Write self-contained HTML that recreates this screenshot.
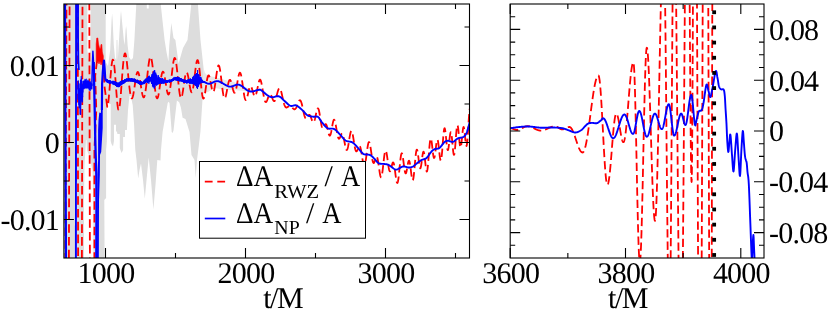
<!DOCTYPE html>
<html><head><meta charset="utf-8"><title>plot</title><style>html,body{margin:0;padding:0;background:#fff;width:830px;height:314px;overflow:hidden}svg text{font-family:"Liberation Serif",serif;fill:#000;letter-spacing:-0.8px;text-rendering:geometricPrecision}</style></head><body>
<svg width="830" height="314" viewBox="0 0 830 314" style="display:block;position:absolute;left:0;top:0;will-change:transform">
<rect x="0" y="0" width="830" height="314" fill="#fff"/>
<defs><clipPath id="cl"><rect x="63.9" y="4" width="405.6" height="254"/></clipPath><clipPath id="cr"><rect x="510.2" y="4" width="253.8" height="254"/></clipPath></defs>
<g clip-path="url(#cl)"><path d="M203.60 68.40 L205.00 73.00 L208.00 76.00 L215.00 77.00 L225.00 80.00 L234.00 82.00 L245.00 87.00 L253.00 90.00 L259.00 90.50 L259.00 91.00 L253.00 92.00 L245.00 91.00 L234.00 90.00 L225.00 90.00 L215.00 88.00 L208.00 92.00 L203.60 93.00Z" fill="#e7e7e7" stroke="none"/><path d="M63.90 4.00 L87.40 4.00 L87.40 50.00 L88.50 60.00 L90.60 50.00 L90.60 4.00 L105.70 4.00 L105.70 60.00 L106.50 100.00 L106.10 150.00 L106.10 198.00 L104.30 200.00 L104.60 258.00 L93.40 258.00 L93.40 200.00 L92.50 170.00 L90.00 158.00 L87.00 150.00 L86.50 140.00 L86.00 140.00 L84.50 165.00 L84.00 200.00 L84.00 258.00 L63.90 258.00Z" fill="#dddddd" stroke="none"/><path d="M105.70 62.00 L108.00 66.00 L110.20 50.00 L111.60 20.00 L112.10 13.40 L112.60 20.00 L113.80 45.00 L115.00 58.00 L116.30 60.00 L116.60 40.00 L117.40 40.00 L117.80 60.00 L118.90 42.00 L120.50 16.00 L121.00 10.80 L121.50 16.00 L123.80 40.00 L124.60 45.00 L125.60 30.00 L126.10 26.00 L126.60 30.00 L127.60 45.00 L129.00 57.00 L131.00 60.00 L133.00 58.00 L134.40 40.00 L136.30 4.00 L146.80 4.00 L146.80 8.60 L148.70 8.60 L148.70 4.00 L160.70 4.00 L164.60 40.00 L166.50 52.00 L168.40 61.50 L169.30 45.00 L171.30 23.00 L173.50 38.00 L175.40 40.00 L178.60 63.40 L183.00 48.00 L187.50 40.00 L191.30 4.00 L197.90 4.00 L200.50 40.00 L203.60 68.40 L203.60 93.00 L202.40 101.00 L200.40 132.00 L199.00 144.00 L197.00 160.00 L195.70 178.00 L194.50 160.00 L191.50 155.00 L189.50 132.00 L185.50 119.00 L182.60 117.80 L180.90 107.50 L179.20 102.30 L176.90 100.60 L173.50 130.40 L172.60 133.00 L171.70 132.00 L169.50 103.00 L168.50 101.70 L167.70 102.90 L162.60 132.00 L161.00 150.00 L160.50 160.50 L157.30 160.00 L155.50 185.00 L153.40 209.50 L151.00 180.00 L148.70 157.60 L147.00 175.00 L144.80 198.70 L143.00 180.00 L141.00 163.40 L139.50 170.00 L138.20 178.60 L136.50 160.00 L135.30 150.00 L134.10 125.00 L132.70 105.00 L130.80 96.00 L129.50 95.50 L128.00 110.00 L126.90 130.00 L125.00 130.00 L125.00 137.00 L123.10 137.00 L123.10 150.00 L121.50 153.00 L119.80 148.00 L119.80 134.00 L117.40 134.00 L116.90 131.40 L116.00 131.40 L116.00 124.70 L114.00 124.70 L114.00 141.00 L113.00 146.60 L111.50 144.00 L110.70 141.00 L110.70 104.00 L107.00 103.50 L106.90 141.00 L106.10 150.00Z" fill="#dddddd" stroke="none"/><path d="M66.5 0L65.4 262" stroke="#ff0000" stroke-width="1.8" stroke-dasharray="8.6 4.2" stroke-dashoffset="3" fill="none"/><path d="M69.6 0L68.9 262" stroke="#ff0000" stroke-width="1.8" stroke-dasharray="8.6 4.2" stroke-dashoffset="6.2" fill="none"/><path d="M77.8 0L78.1 262" stroke="#ff0000" stroke-width="1.8" stroke-dasharray="8.6 4.2" stroke-dashoffset="8.6" fill="none"/><path d="M82.5 0L81.9 262" stroke="#ff0000" stroke-width="1.8" stroke-dasharray="8.6 4.2" stroke-dashoffset="6.1" fill="none"/><path d="M89.3 0L89.9 262" stroke="#ff0000" stroke-width="1.8" stroke-dasharray="8.6 4.2" stroke-dashoffset="11.2" fill="none"/><path d="M96.9 61.5L95.2 76L96.3 110L94.4 150L94.4 262" stroke="#ff0000" stroke-width="1.8" stroke-dasharray="8.6 4.2" stroke-dashoffset="1" fill="none"/><path d="M96.20 62.00 L96.20 44.00 L96.80 38.00 L97.80 38.00 L98.50 44.00 L99.50 48.00 L100.50 49.00 L101.00 44.50 L101.80 44.50 L102.30 52.00 L103.30 56.00 L103.30 60.00 L102.80 68.00 L102.00 62.00 L101.00 65.00 L100.00 61.00 L99.00 64.00 L98.00 61.00 L97.00 63.00Z" fill="#ff0000" stroke="#ff0000" stroke-width="0.6" stroke-linejoin="round"/><path d="M103.20 62.00 L104.50 86.50 L107.00 105.00 L107.25 106.89 L107.50 106.43 L107.75 105.54 L108.00 104.23 L108.25 102.54 L108.50 100.49 L108.75 98.13 L109.00 95.50 L109.25 92.65 L109.50 89.63 L109.75 86.49 L110.00 83.30 L110.25 80.11 L110.50 76.98 L110.75 73.97 L111.00 71.13 L111.25 68.50 L111.50 66.15 L111.75 64.11 L112.00 62.42 L112.25 61.11 L112.50 60.21 L112.75 59.73 L113.00 59.68 L113.25 60.06 L113.50 60.87 L113.75 62.09 L114.00 63.71 L114.25 65.70 L114.50 68.02 L114.75 70.64 L115.00 73.51 L115.25 76.66 L115.50 79.96 L115.75 83.38 L116.00 86.84 L116.25 90.28 L116.50 93.64 L116.75 96.84 L117.00 99.84 L117.25 102.52 L117.50 104.89 L117.75 106.85 L118.00 108.44 L118.25 109.38 L118.50 109.87 L118.75 109.87 L119.00 109.41 L119.25 108.49 L119.50 107.14 L119.75 105.39 L120.00 103.27 L120.25 100.81 L120.50 98.07 L120.75 95.08 L121.00 91.90 L121.25 88.58 L121.50 85.17 L121.75 81.72 L122.00 78.29 L122.25 74.92 L122.50 71.66 L122.75 68.56 L123.00 65.65 L123.25 62.99 L123.50 60.59 L123.75 58.50 L124.00 56.75 L124.25 55.34 L124.50 54.30 L124.75 53.62 L125.00 53.32 L125.25 53.49 L125.50 54.02 L125.75 54.89 L126.00 56.08 L126.25 57.56 L126.50 59.30 L126.75 61.28 L127.00 63.46 L127.25 65.80 L127.50 68.26 L127.75 70.81 L128.00 73.40 L128.25 76.01 L128.50 78.59 L128.75 81.11 L129.00 83.52 L129.25 85.81 L129.50 87.94 L129.75 89.88 L130.00 91.62 L130.25 93.29 L130.50 94.75 L130.75 95.98 L131.00 96.97 L131.25 97.70 L131.50 98.18 L131.75 98.40 L132.00 98.37 L132.25 98.09 L132.50 97.57 L132.75 96.83 L133.00 95.87 L133.25 94.73 L133.50 93.42 L133.75 91.96 L134.00 90.39 L134.25 88.74 L134.50 87.02 L134.75 85.29 L135.00 83.55 L135.25 81.85 L135.50 80.22 L135.75 78.67 L136.00 77.23 L136.25 75.93 L136.50 74.79 L136.75 73.82 L137.00 73.05 L137.25 72.47 L137.50 72.11 L137.75 71.95 L138.00 72.02 L138.25 72.32 L138.50 72.84 L138.75 73.60 L139.00 74.57 L139.25 75.72 L139.50 77.04 L139.75 78.48 L140.00 80.04 L140.25 81.65 L140.50 83.32 L140.75 84.97 L141.00 86.65 L141.25 88.25 L141.50 89.81 L141.75 91.27 L142.00 92.63 L142.25 93.85 L142.50 94.92 L142.75 95.82 L143.00 96.53 L143.25 97.02 L143.50 97.30 L143.75 97.36 L144.00 97.17 L144.25 96.75 L144.50 96.09 L144.75 95.21 L145.00 94.09 L145.25 92.76 L145.50 91.22 L145.75 89.49 L146.00 87.57 L146.25 85.52 L146.50 83.33 L146.75 81.07 L147.00 78.74 L147.25 76.40 L147.50 74.06 L147.75 71.77 L148.00 69.53 L148.25 67.41 L148.50 65.42 L148.75 63.58 L149.00 61.93 L149.25 60.48 L149.50 59.27 L149.75 58.30 L150.00 57.60 L150.25 57.17 L150.50 57.02 L150.75 57.16 L151.00 57.59 L151.25 58.30 L151.50 59.28 L151.75 60.52 L152.00 62.00 L152.25 63.71 L152.50 65.61 L152.75 67.69 L153.00 69.90 L153.25 72.23 L153.50 74.64 L153.75 77.08 L154.00 79.54 L154.25 81.96 L154.50 84.32 L154.75 86.59 L155.00 88.72 L155.25 90.70 L155.50 92.49 L155.75 94.07 L156.00 95.43 L156.25 96.53 L156.50 97.38 L156.75 97.97 L157.00 98.28 L157.25 98.33 L157.50 98.11 L157.75 97.63 L158.00 96.92 L158.25 95.98 L158.50 94.83 L158.75 93.50 L159.00 92.01 L159.25 90.40 L159.50 88.69 L159.75 86.92 L160.00 85.11 L160.25 83.31 L160.50 81.55 L160.75 79.85 L161.00 78.24 L161.25 76.77 L161.50 75.44 L161.75 74.28 L162.00 73.32 L162.25 72.56 L162.50 72.03 L162.75 71.72 L163.00 71.65 L163.25 71.80 L163.50 72.19 L163.75 72.80 L164.00 73.61 L164.25 74.61 L164.50 75.78 L164.75 77.09 L165.00 78.53 L165.25 80.06 L165.50 81.65 L165.75 83.27 L166.00 84.90 L166.25 86.49 L166.50 88.02 L166.75 89.45 L167.00 90.75 L167.25 91.90 L167.50 92.87 L167.75 93.63 L168.00 94.17 L168.25 94.48 L168.50 94.53 L168.75 94.33 L169.00 93.87 L169.25 93.15 L169.50 92.19 L169.75 90.98 L170.00 89.55 L170.25 87.91 L170.50 86.08 L170.75 84.09 L171.00 81.97 L171.25 79.75 L171.50 77.48 L171.75 75.17 L172.00 72.88 L172.25 70.64 L172.50 68.48 L172.75 66.45 L173.00 64.56 L173.25 62.87 L173.50 61.39 L173.75 60.15 L174.00 59.16 L174.25 58.46 L174.50 58.05 L174.75 57.94 L175.00 58.14 L175.25 58.64 L175.50 59.43 L175.75 60.52 L176.00 61.86 L176.25 63.48 L176.50 65.31 L176.75 67.35 L177.00 69.54 L177.25 71.87 L177.50 74.28 L177.75 76.76 L178.00 79.25 L178.25 81.72 L178.50 84.12 L178.75 86.43 L179.00 88.60 L179.25 90.61 L179.50 92.41 L179.75 93.99 L180.00 95.33 L180.25 96.39 L180.50 97.18 L180.75 97.68 L181.00 97.89 L181.25 97.81 L181.50 97.46 L181.75 96.85 L182.00 96.00 L182.25 94.93 L182.50 93.66 L182.75 92.22 L183.00 90.64 L183.25 88.96 L183.50 87.20 L183.75 85.41 L184.00 83.61 L184.25 81.85 L184.50 80.16 L184.75 78.57 L185.00 77.11 L185.25 75.80 L185.50 74.68 L185.75 73.76 L186.00 73.06 L186.25 72.59 L186.50 72.35 L186.75 72.36 L187.00 72.60 L187.25 73.07 L187.50 73.76 L187.75 74.65 L188.00 75.71 L188.25 76.93 L188.50 78.28 L188.75 79.73 L189.00 81.23 L189.25 82.77 L189.50 84.30 L189.75 85.79 L190.00 87.20 L190.25 88.50 L190.50 89.65 L190.75 90.62 L191.00 91.39 L191.25 91.94 L191.50 92.24 L191.75 92.29 L192.00 92.08 L192.25 91.60 L192.50 90.87 L192.75 89.88 L193.00 88.65 L193.25 87.21 L193.50 85.56 L193.75 83.75 L194.00 81.80 L194.25 79.74 L194.50 77.61 L194.75 75.43 L195.00 73.25 L195.25 71.12 L195.50 69.07 L195.75 67.15 L196.00 65.40 L196.25 63.85 L196.50 62.53 L196.75 61.48 L197.00 60.70 L197.25 60.24 L197.50 60.09 L197.75 60.27 L198.00 60.76 L198.25 61.58 L198.50 62.71 L198.75 64.13 L199.00 65.82 L199.25 67.75 L199.50 69.89 L199.75 72.20 L200.00 74.64 L200.25 77.17 L200.50 79.73 L200.75 82.28 L201.00 84.78 L201.25 87.18 L201.50 89.44 L201.75 91.51 L202.00 93.37 L202.25 94.98 L202.50 96.32 L202.75 97.37 L203.00 98.10 L203.25 98.52 L203.50 98.62 L203.75 98.42 L204.00 97.92 L204.25 97.15 L204.50 96.14 L204.75 94.91 L205.00 93.49 L205.25 91.92 L205.50 90.24 L205.75 88.49 L206.00 86.70 L206.25 84.93 L206.50 83.21 L206.75 81.58 L207.00 80.09 L207.25 78.75 L207.50 77.60 L207.75 76.67 L208.00 75.97 L208.25 75.53 L208.50 75.32 L208.75 75.39 L209.00 75.68 L209.25 76.22 L209.50 76.98 L209.75 77.92 L210.00 79.02 L210.25 80.25 L210.50 81.56 L210.75 82.94 L211.00 84.34 L211.25 85.72 L211.50 87.03 L211.75 88.26 L212.00 89.35 L212.25 90.27 L212.50 91.01 L212.75 91.53 L213.00 91.81 L213.25 91.85 L213.50 91.64 L213.75 91.17 L214.00 90.44 L214.25 89.48 L214.50 88.30 L214.75 86.92 L215.00 85.36 L215.25 83.65 L215.50 81.85 L215.75 79.96 L216.00 78.06 L216.25 76.15 L216.50 74.30 L216.75 72.53 L217.00 70.90 L217.25 69.42 L217.50 68.14 L217.75 67.08 L218.00 66.26 L218.25 65.73 L218.50 65.46 L218.75 65.48 L219.00 65.78 L219.25 66.37 L219.50 67.23 L219.75 68.34 L220.00 69.69 L220.25 71.25 L220.50 73.00 L220.75 74.90 L221.00 76.91 L221.25 79.02 L221.50 81.16 L221.75 83.31 L222.00 85.43 L222.25 87.49 L222.50 89.44 L222.75 91.26 L223.00 92.92 L223.25 94.39 L223.50 95.65 L223.75 96.68 L224.00 97.47 L224.25 98.01 L224.50 98.31 L224.75 98.35 L225.00 98.16 L225.25 97.74 L225.50 97.10 L225.75 96.28 L226.00 95.28 L226.25 94.15 L226.50 92.90 L226.75 91.57 L227.00 90.19 L227.25 88.80 L227.50 87.41 L227.75 86.08 L228.00 84.81 L228.25 83.64 L228.50 82.61 L228.75 81.71 L229.00 80.98 L229.25 80.42 L229.50 80.04 L229.75 79.85 L230.00 79.85 L230.25 80.03 L230.50 80.40 L230.75 80.92 L231.00 81.59 L231.25 82.39 L231.50 83.30 L231.75 84.28 L232.00 85.33 L232.25 86.40 L232.50 87.47 L232.75 88.50 L233.00 89.48 L233.25 90.37 L233.50 91.15 L233.75 91.80 L234.00 92.29 L234.25 92.62 L234.50 92.76 L234.75 92.72 L235.00 92.48 L235.25 92.04 L235.50 91.42 L235.75 90.62 L236.00 89.65 L236.25 88.54 L236.50 87.30 L236.75 85.97 L237.00 84.55 L237.25 83.09 L237.50 81.61 L237.75 80.16 L238.00 78.75 L238.25 77.43 L238.50 76.22 L238.75 75.15 L239.00 74.24 L239.25 73.53 L239.50 73.02 L239.75 72.74 L240.00 72.68 L240.25 72.87 L240.50 73.29 L240.75 73.95 L241.00 74.83 L241.25 75.92 L241.50 77.20 L241.75 78.65 L242.00 80.24 L242.25 81.94 L242.50 83.73 L242.75 85.56 L243.00 87.41 L243.25 89.23 L243.50 91.01 L243.75 92.69 L244.00 94.26 L244.25 95.68 L244.50 96.93 L244.75 97.99 L245.00 98.85 L245.25 99.49 L245.50 99.90 L245.75 100.10 L246.00 100.07 L246.25 99.83 L246.50 99.39 L246.75 98.78 L247.00 98.01 L247.25 97.10 L247.50 96.09 L247.75 95.00 L248.00 93.87 L248.25 92.73 L248.50 91.60 L248.75 90.51 L249.00 89.51 L249.25 88.59 L249.50 87.80 L249.75 87.15 L250.00 86.65 L250.25 86.34 L250.50 86.20 L250.75 86.23 L251.00 86.44 L251.25 86.80 L251.50 87.30 L251.75 87.94 L252.00 88.68 L252.25 89.51 L252.50 90.38 L252.75 91.29 L253.00 92.20 L253.25 93.08 L253.50 93.90 L253.75 94.63 L254.00 95.26 L254.25 95.76 L254.50 96.11 L254.75 96.30 L255.00 96.32 L255.25 96.16 L255.50 95.82 L255.75 95.31 L256.00 94.63 L256.25 93.80 L256.50 92.84 L256.75 91.77 L257.00 90.61 L257.25 89.39 L257.50 88.14 L257.75 86.89 L258.00 85.67 L258.25 84.48 L258.50 83.38 L258.75 82.38 L259.00 81.48 L259.25 80.71 L259.50 80.11 L259.75 79.73 L260.00 79.63 L260.25 79.77 L260.50 80.12 L260.75 80.66 L261.00 81.40 L261.25 82.32 L261.50 83.41 L261.75 84.63 L262.00 85.97 L262.25 87.40 L262.50 88.89 L262.75 90.41 L263.00 91.94 L263.25 93.43 L263.50 94.88 L263.75 96.24 L264.00 97.50 L264.25 98.63 L264.50 99.62 L264.75 100.46 L265.00 101.12 L265.25 101.62 L265.50 101.94 L265.75 102.08 L266.00 102.07 L266.25 101.90 L266.50 101.59 L266.75 101.15 L267.00 100.62 L267.25 99.99 L267.50 99.32 L267.75 98.60 L268.00 97.88 L268.25 97.19 L268.50 96.53 L268.75 95.94 L269.00 95.43 L269.25 95.01 L269.50 94.70 L269.75 94.50 L270.00 94.42 L270.25 94.45 L270.50 94.60 L270.75 94.86 L271.00 95.22 L271.25 95.67 L271.50 96.20 L271.75 96.78 L272.00 97.40 L272.25 98.04 L272.50 98.66 L272.75 99.26 L273.00 99.79 L273.25 100.26 L273.50 100.65 L273.75 100.93 L274.00 101.10 L274.25 101.15 L274.50 101.08 L274.75 100.87 L275.00 100.54 L275.25 100.08 L275.50 99.50 L275.75 98.82 L276.00 98.05 L276.25 97.19 L276.50 96.28 L276.75 95.32 L277.00 94.35 L277.25 93.38 L277.50 92.44 L277.75 91.55 L278.00 90.72 L278.25 89.98 L278.50 89.35 L278.75 88.85 L279.00 88.48 L279.25 88.26 L279.50 88.19 L279.75 88.28 L280.00 88.51 L280.25 88.91 L280.50 89.43 L280.75 90.10 L281.00 90.88 L281.25 91.78 L281.50 92.76 L281.75 93.81 L282.00 94.92 L282.25 96.07 L282.50 97.23 L282.75 98.39 L283.00 99.53 L283.25 100.63 L283.50 101.69 L283.75 102.66 L284.00 103.57 L284.25 104.37 L284.50 105.08 L284.75 105.70 L285.00 106.22 L285.25 106.65 L285.50 106.99 L285.75 107.24 L286.00 107.41 L286.25 107.50 L286.50 107.53 L286.75 107.49 L287.00 107.41 L287.25 107.29 L287.50 107.13 L287.75 106.97 L288.00 106.79 L288.25 106.62 L288.50 106.45 L288.75 106.32 L289.00 106.20 L289.25 106.13 L289.50 106.09 L289.75 106.09 L290.00 106.13 L290.25 106.17 L290.50 106.24 L290.75 106.35 L291.00 106.49 L291.25 106.66 L291.50 106.87 L291.75 107.10 L292.00 107.36 L292.25 107.62 L292.50 107.90 L292.75 108.17 L293.00 108.43 L293.25 108.67 L293.50 108.89 L293.75 109.07 L294.00 109.20 L294.25 109.29 L294.50 109.30 L294.75 109.27 L295.00 109.15 L295.25 108.98 L295.50 108.72 L295.75 108.42 L296.00 108.02 L296.25 107.59 L296.50 107.08 L296.75 106.52 L297.00 105.91 L297.25 105.27 L297.50 104.60 L297.75 103.94 L298.00 103.27 L298.25 102.64 L298.50 102.05 L298.75 101.51 L299.00 101.06 L299.25 100.69 L299.50 100.43 L299.75 100.28 L300.00 100.26 L300.25 100.37 L300.50 100.62 L300.75 101.00 L301.00 101.52 L301.25 102.18 L301.50 102.95 L301.75 103.83 L302.00 104.81 L302.25 105.88 L302.50 107.02 L302.75 108.21 L303.00 109.42 L303.25 110.63 L303.50 111.82 L303.75 112.97 L304.00 114.05 L304.25 115.04 L304.50 115.93 L304.75 116.69 L305.00 117.33 L305.25 117.84 L305.50 118.20 L305.75 118.42 L306.00 118.51 L306.25 118.47 L306.50 118.33 L306.75 118.08 L307.00 117.76 L307.25 117.36 L307.50 116.95 L307.75 116.50 L308.00 116.08 L308.25 115.68 L308.50 115.35 L308.75 115.10 L309.00 114.93 L309.25 114.87 L309.50 114.93 L309.75 115.10 L310.00 115.39 L310.25 115.79 L310.50 116.28 L310.75 116.87 L311.00 117.52 L311.25 118.21 L311.50 118.93 L311.75 119.64 L312.00 120.32 L312.25 120.94 L312.50 121.47 L312.75 121.91 L313.00 122.21 L313.25 122.37 L313.50 122.36 L313.75 122.18 L314.00 121.82 L314.25 121.27 L314.50 120.56 L314.75 119.70 L315.00 118.71 L315.25 117.61 L315.50 116.44 L315.75 115.23 L316.00 114.02 L316.25 112.84 L316.50 111.73 L316.75 110.74 L317.00 109.87 L317.25 109.19 L317.50 108.70 L317.75 108.44 L318.00 108.40 L318.25 108.65 L318.50 109.11 L318.75 109.84 L319.00 110.78 L319.25 111.95 L319.50 113.29 L319.75 114.78 L320.00 116.36 L320.25 117.98 L320.50 119.61 L320.75 121.18 L321.00 122.67 L321.25 124.01 L321.50 125.20 L321.75 126.22 L322.00 127.02 L322.25 127.63 L322.50 128.05 L322.75 128.26 L323.00 128.27 L323.25 128.12 L323.50 127.81 L323.75 127.38 L324.00 126.87 L324.25 126.31 L324.50 125.75 L324.75 125.22 L325.00 124.76 L325.25 124.42 L325.50 124.20 L325.75 124.16 L326.00 124.28 L326.25 124.60 L326.50 125.10 L326.75 125.78 L327.00 126.62 L327.25 127.57 L327.50 128.64 L327.75 129.74 L328.00 130.88 L328.25 131.96 L328.50 132.99 L328.75 133.89 L329.00 134.65 L329.25 135.22 L329.50 135.58 L329.75 135.71 L330.00 135.60 L330.25 135.25 L330.50 134.65 L330.75 133.83 L331.00 132.81 L331.25 131.63 L331.50 130.30 L331.75 128.90 L332.00 127.44 L332.25 126.00 L332.50 124.61 L332.75 123.32 L333.00 122.18 L333.25 121.22 L333.50 120.47 L333.75 119.97 L334.00 119.72 L334.25 119.74 L334.50 120.03 L334.75 120.56 L335.00 121.34 L335.25 122.33 L335.50 123.51 L335.75 124.83 L336.00 126.28 L336.25 127.80 L336.50 129.35 L336.75 130.88 L337.00 132.36 L337.25 133.75 L337.50 135.01 L337.75 136.12 L338.00 137.04 L338.25 137.77 L338.50 138.30 L338.75 138.61 L339.00 138.73 L339.25 138.65 L339.50 138.39 L339.75 137.99 L340.00 137.47 L340.25 136.88 L340.50 136.25 L340.75 135.63 L341.00 135.04 L341.25 134.53 L341.50 134.13 L341.75 133.86 L342.00 133.75 L342.25 133.82 L342.50 134.07 L342.75 134.51 L343.00 135.15 L343.25 135.97 L343.50 136.95 L343.75 138.07 L344.00 139.31 L344.25 140.63 L344.50 142.00 L344.75 143.37 L345.00 144.71 L345.25 145.97 L345.50 147.12 L345.75 148.12 L346.00 148.93 L346.25 149.53 L346.50 149.89 L346.75 150.01 L347.00 149.88 L347.25 149.49 L347.50 148.86 L347.75 147.99 L348.00 146.91 L348.25 145.66 L348.50 144.25 L348.75 142.74 L349.00 141.16 L349.25 139.55 L349.50 137.97 L349.75 136.46 L350.00 135.06 L350.25 133.81 L350.50 132.76 L350.75 131.92 L351.00 131.33 L351.25 131.00 L351.50 130.95 L351.75 131.18 L352.00 131.68 L352.25 132.43 L352.50 133.43 L352.75 134.62 L353.00 135.99 L353.25 137.48 L353.50 139.06 L353.75 140.70 L354.00 142.32 L354.25 143.92 L354.50 145.43 L354.75 146.84 L355.00 148.08 L355.25 149.16 L355.50 150.03 L355.75 150.70 L356.00 151.14 L356.25 151.37 L356.50 151.39 L356.75 151.21 L357.00 150.86 L357.25 150.38 L357.50 149.79 L357.75 149.15 L358.00 148.48 L358.25 147.82 L358.50 147.21 L358.75 146.70 L359.00 146.31 L359.25 146.07 L359.50 146.01 L359.75 146.15 L360.00 146.51 L360.25 147.08 L360.50 147.86 L360.75 148.85 L361.00 150.03 L361.25 151.36 L361.50 152.82 L361.75 154.38 L362.00 155.99 L362.25 157.62 L362.50 159.22 L362.75 160.75 L363.00 162.13 L363.25 163.32 L363.50 164.26 L363.75 164.96 L364.00 165.38 L364.25 165.54 L364.50 165.39 L364.75 164.94 L365.00 164.20 L365.25 163.18 L365.50 161.91 L365.75 160.42 L366.00 158.75 L366.25 156.94 L366.50 155.03 L366.75 153.10 L367.00 151.18 L367.25 149.32 L367.50 147.59 L367.75 146.03 L368.00 144.68 L368.25 143.58 L368.50 142.76 L368.75 142.26 L369.00 142.06 L369.25 142.21 L369.50 142.65 L369.75 143.42 L370.00 144.45 L370.25 145.75 L370.50 147.24 L370.75 148.88 L371.00 150.63 L371.25 152.43 L371.50 154.23 L371.75 155.95 L372.00 157.59 L372.25 159.05 L372.50 160.33 L372.75 161.38 L373.00 162.18 L373.25 162.71 L373.50 162.98 L373.75 162.98 L374.00 162.74 L374.25 162.29 L374.50 161.68 L374.75 160.94 L375.00 160.14 L375.25 159.32 L375.50 158.54 L375.75 157.85 L376.00 157.28 L376.25 156.89 L376.50 156.70 L376.75 156.75 L377.00 157.05 L377.25 157.62 L377.50 158.45 L377.75 159.52 L378.00 160.84 L378.25 162.33 L378.50 164.00 L378.75 165.77 L379.00 167.60 L379.25 169.42 L379.50 171.18 L379.75 172.82 L380.00 174.29 L380.25 175.49 L380.50 176.41 L380.75 177.01 L381.00 177.26 L381.25 177.15 L381.50 176.66 L381.75 175.81 L382.00 174.61 L382.25 173.10 L382.50 171.31 L382.75 169.30 L383.00 167.13 L383.25 164.86 L383.50 162.56 L383.75 160.31 L384.00 158.16 L384.25 156.20 L384.50 154.47 L384.75 153.03 L385.00 151.91 L385.25 151.13 L385.50 150.73 L385.75 150.70 L386.00 151.05 L386.25 151.75 L386.50 152.78 L386.75 154.09 L387.00 155.64 L387.25 157.36 L387.50 159.21 L387.75 161.10 L388.00 162.98 L388.25 164.79 L388.50 166.46 L388.75 167.94 L389.00 169.19 L389.25 170.17 L389.50 170.86 L389.75 171.25 L390.00 171.34 L390.25 171.14 L390.50 170.67 L390.75 169.98 L391.00 169.10 L391.25 168.10 L391.50 167.02 L391.75 165.93 L392.00 164.90 L392.25 163.98 L392.50 163.22 L392.75 162.69 L393.00 162.42 L393.25 162.43 L393.50 162.75 L393.75 163.39 L394.00 164.33 L394.25 165.55 L394.50 167.03 L394.75 168.72 L395.00 170.58 L395.25 172.54 L395.50 174.53 L395.75 176.44 L396.00 178.23 L396.25 179.77 L396.50 181.08 L396.75 182.06 L397.00 182.70 L397.25 182.96 L397.50 182.80 L397.75 182.21 L398.00 181.20 L398.25 179.79 L398.50 178.03 L398.75 175.96 L399.00 173.64 L399.25 171.15 L399.50 168.55 L399.75 165.94 L400.00 163.40 L400.25 161.00 L400.50 158.82 L400.75 156.93 L401.00 155.40 L401.25 154.26 L401.50 153.55 L401.75 153.28 L402.00 153.45 L402.25 154.05 L402.50 155.03 L402.75 156.37 L403.00 157.98 L403.25 159.82 L403.50 161.79 L403.75 163.83 L404.00 165.82 L404.25 167.71 L404.50 169.42 L404.75 170.88 L405.00 172.03 L405.25 172.84 L405.50 173.28 L405.75 173.35 L406.00 173.06 L406.25 172.42 L406.50 171.49 L406.75 170.31 L407.00 168.96 L407.25 167.50 L407.50 166.02 L407.75 164.60 L408.00 163.30 L408.25 162.21 L408.50 161.38 L408.75 160.87 L409.00 160.72 L409.25 160.96 L409.50 161.59 L409.75 162.59 L410.00 163.93 L410.25 165.57 L410.50 167.43 L410.75 169.44 L411.00 171.51 L411.25 173.55 L411.50 175.47 L411.75 177.17 L412.00 178.58 L412.25 179.62 L412.50 180.23 L412.75 180.35 L413.00 179.99 L413.25 179.11 L413.50 177.75 L413.75 175.92 L414.00 173.71 L414.25 171.18 L414.50 168.41 L414.75 165.52 L415.00 162.60 L415.25 159.76 L415.50 157.12 L415.75 154.76 L416.00 152.78 L416.25 151.24 L416.50 150.20 L416.75 149.68 L417.00 149.70 L417.25 150.23 L417.50 151.24 L417.75 152.66 L418.00 154.41 L418.25 156.39 L418.50 158.51 L418.75 160.65 L419.00 162.69 L419.25 164.53 L419.50 166.09 L419.75 167.26 L420.00 168.01 L420.25 168.29 L420.50 168.08 L420.75 167.41 L421.00 166.30 L421.25 164.82 L421.50 163.05 L421.75 161.12 L422.00 159.11 L422.25 157.15 L422.50 155.35 L422.75 153.83 L423.00 152.66 L423.25 151.92 L423.50 151.67 L423.75 151.93 L424.00 152.70 L424.25 153.94 L424.50 155.60 L424.75 157.59 L425.00 159.82 L425.25 162.14 L425.50 164.47 L425.75 166.63 L426.00 168.53 L426.25 170.03 L426.50 171.06 L426.75 171.50 L427.00 171.36 L427.25 170.57 L427.50 169.18 L427.75 167.22 L428.00 164.78 L428.25 161.93 L428.50 158.80 L428.75 155.52 L429.00 152.22 L429.25 149.04 L429.50 146.10 L429.75 143.54 L430.00 141.44 L430.25 139.88 L430.50 138.91 L430.75 138.56 L431.00 138.80 L431.25 139.61 L431.50 140.92 L431.75 142.67 L432.00 144.70 L432.25 146.92 L432.50 149.21 L432.75 151.43 L433.00 153.47 L433.25 155.24 L433.50 156.61 L433.75 157.56 L434.00 157.99 L434.25 157.92 L434.50 157.33 L434.75 156.28 L435.00 154.79 L435.25 153.00 L435.50 150.97 L435.75 148.85 L436.00 146.72 L436.25 144.72 L436.50 142.94 L436.75 141.50 L437.00 140.46 L437.25 139.90 L437.50 139.85 L437.75 140.33 L438.00 141.31 L438.25 142.77 L438.50 144.60 L438.75 146.76 L439.00 149.10 L439.25 151.52 L439.50 153.88 L439.75 156.04 L440.00 157.90 L440.25 159.33 L440.50 160.24 L440.75 160.57 L441.00 160.28 L441.25 159.36 L441.50 157.82 L441.75 155.72 L442.00 153.14 L442.25 150.17 L442.50 146.94 L442.75 143.59 L443.00 140.26 L443.25 137.11 L443.50 134.27 L443.75 131.87 L444.00 130.02 L444.25 128.80 L444.50 128.25 L444.75 128.39 L445.00 129.17 L445.25 130.56 L445.50 132.44 L445.75 134.73 L446.00 137.27 L446.25 139.93 L446.50 142.53 L446.75 144.94 L447.00 147.01 L447.25 148.63 L447.50 149.69 L447.75 150.15 L448.00 149.98 L448.25 149.22 L448.50 147.91 L448.75 146.16 L449.00 144.07 L449.25 141.78 L449.50 139.44 L449.75 137.22 L450.00 135.25 L450.25 133.67 L450.50 132.61 L450.75 132.13 L451.00 132.30 L451.25 133.10 L451.50 134.52 L451.75 136.47 L452.00 138.86 L452.25 141.53 L452.50 144.34 L452.75 147.09 L453.00 149.66 L453.25 151.82 L453.50 153.50 L453.75 154.52 L454.00 154.86 L454.25 154.44 L454.50 153.30 L454.75 151.46 L455.00 149.03 L455.25 146.11 L455.50 142.88 L455.75 139.50 L456.00 136.14 L456.25 133.00 L456.50 130.22 L456.75 127.97 L457.00 126.35 L457.25 125.44 L457.50 125.27 L457.75 125.85 L458.00 127.10 L458.25 128.97 L458.50 131.30 L458.75 133.95 L459.00 136.75 L459.25 139.52 L459.50 142.08 L459.75 144.27 L460.00 145.97 L460.25 147.07 L460.50 147.50 L460.75 147.25 L461.00 146.33 L461.25 144.81 L461.50 142.79 L461.75 140.42 L462.00 137.83 L462.25 135.21 L462.50 132.73 L462.75 130.53 L463.00 128.79 L463.25 127.58 L463.50 127.03 L463.75 127.16 L464.00 127.94 L464.25 129.36 L464.50 131.27 L464.75 133.58 L465.00 136.10 L465.25 138.66 L465.50 141.09 L465.75 143.18 L466.00 144.79 L466.25 145.74 L466.50 146.00 L466.75 145.37 L467.00 143.99 L467.25 141.81 L467.50 138.96 L467.75 135.57 L468.00 131.81 L468.25 127.79 L468.50 123.77 L468.75 119.83 L469.00 116.25 L469.25 113.17 L469.50 110.73 L469.75 109.05 L470.00 108.13" stroke="#ff0000" stroke-width="1.8" stroke-dasharray="8.3 4" fill="none" stroke-linejoin="round"/><path d="M65.0 0 L65.4 120 L66.0 262" stroke="#0000ff" stroke-width="2.2" fill="none"/><path d="M76.1 0 L75.9 262" stroke="#0000ff" stroke-width="1.9" fill="none"/><path d="M78.00 0.00 L78.00 36.00 L78.30 60.00 L78.80 70.00" stroke="#0000ff" stroke-width="1.9" fill="none"/><path d="M77.80 85.11 L77.97 99.30 L78.14 80.61 L78.31 99.21 L78.48 81.65 L78.65 104.40 L78.82 88.45 L78.99 107.84 L79.16 89.01 L79.33 107.17 L79.50 88.97 L79.67 102.23 L79.84 83.85 L80.01 114.26 L80.18 88.53 L80.35 104.24 L80.52 80.15 L80.69 114.41 L80.86 81.35 L81.03 104.79 L81.20 76.32 L81.37 98.94 L81.54 78.64 L81.71 100.99 L81.88 87.64 L82.05 97.73 L82.22 85.30 L82.39 102.02 L82.56 85.68 L82.73 96.72 L82.90 81.39 L83.07 92.29 L83.24 81.70 L83.41 88.82 L83.58 84.16 L83.75 88.65 L83.92 80.78 L84.09 88.66 L84.26 82.24 L84.43 88.17 L84.60 81.33 L84.77 86.31 L84.94 79.41 L85.11 87.38 L85.28 81.45 L85.45 87.01 L85.62 80.53 L85.79 88.22 L85.96 79.91 L86.13 86.16 L86.30 79.12 L86.47 85.64 L86.64 81.31 L86.81 88.07 L86.98 82.40 L87.15 87.19 L87.32 82.93 L87.49 87.94 L87.66 80.44 L87.83 87.70 L88.00 80.17 L88.17 86.94 L88.34 81.09 L88.51 88.18 L88.68 81.77 L88.85 87.93 L89.02 81.12 L89.19 89.89 L89.36 82.68 L89.53 89.14 L89.70 84.40 L89.87 89.51 L90.04 82.57 L90.21 90.51 L90.38 81.83 L90.55 87.89 L90.72 83.19 L90.89 89.04 L91.06 84.30 L91.23 88.16 L91.40 83.65 L91.57 86.82 L91.74 83.88 L91.91 88.87 L92.08 83.49" stroke="#0000ff" stroke-width="1.1" fill="none" stroke-linejoin="round"/><path d="M91.80 86.00 L92.30 68.00 L92.90 51.30 L93.50 62.00 L94.00 80.00" stroke="#0000ff" stroke-width="1.5" fill="none" stroke-linejoin="round"/><path d="M93.70 62.00 L94.40 96.00 L94.90 120.00 L95.30 140.00 L95.60 152.00 L96.30 174.00 L96.50 200.00 L96.30 262.00" stroke="#0000ff" stroke-width="2.3" fill="none" stroke-linejoin="round"/><path d="M101.20 106.00 L100.90 113.00 L99.30 112.50 L98.50 120.00 L98.10 130.00 L98.10 160.00 L97.50 175.00 L97.20 200.00 L97.00 262.00 L98.80 262.00 L99.00 200.00 L99.80 175.00 L100.00 155.00 L101.20 152.00 L102.70 128.00 L102.70 106.00Z" fill="#0000ff" stroke="none"/><path d="M101.90 110.00 L102.10 84.00 L102.80 72.00 L103.50 64.00 L104.00 60.50 L104.60 68.00 L105.20 78.00 L105.80 80.40" stroke="#0000ff" stroke-width="2.2" fill="none" stroke-linejoin="round"/><path d="M105.80 79.82 L105.93 81.27 L106.06 78.90 L106.19 80.87 L106.32 79.69 L106.45 81.74 L106.58 79.07 L106.71 82.29 L106.84 79.20 L106.97 81.51 L107.10 80.04 L107.23 81.75 L107.36 79.36 L107.49 82.85 L107.62 80.68 L107.75 81.65 L107.88 80.64 L108.01 81.85 L108.14 80.31 L108.27 82.56 L108.40 80.79 L108.53 81.66 L108.66 80.62 L108.79 82.39 L108.92 80.46 L109.05 83.49 L109.18 80.33 L109.31 82.84 L109.44 80.55 L109.57 83.21 L109.70 81.61 L109.83 83.70 L109.96 80.43 L110.09 83.75 L110.22 80.48 L110.35 83.00 L110.48 81.26 L110.61 82.57 L110.74 80.92 L110.87 82.58 L111.00 82.00 L111.13 82.92 L111.26 81.90 L111.39 83.23 L111.52 82.17 L111.65 82.70 L111.78 82.06 L111.91 82.95 L112.04 81.75 L112.17 82.89 L112.30 80.88 L112.43 84.05 L112.56 82.27 L112.69 83.47 L112.82 81.97 L112.95 83.76 L113.08 82.45 L113.21 84.77 L113.34 80.85 L113.47 84.12 L113.60 81.89 L113.73 83.47 L113.86 82.71 L113.99 84.06 L114.12 82.45 L114.25 85.13 L114.38 82.74 L114.51 83.60 L114.64 81.21 L114.77 84.73 L114.90 82.93 L115.03 84.87 L115.16 83.29 L115.29 84.98 L115.42 81.41 L115.55 85.84 L115.68 82.13 L115.81 84.74 L115.94 83.00 L116.07 84.72 L116.20 82.29 L116.33 85.73 L116.46 82.46 L116.59 85.49 L116.72 83.86 L116.85 86.76 L116.98 82.32 L117.11 87.02 L117.24 82.81 L117.37 87.07 L117.50 83.03 L117.63 85.77 L117.76 83.53 L117.89 86.08 L118.02 84.67 L118.15 85.28 L118.28 84.02 L118.41 85.74 L118.54 82.99 L118.67 87.20 L118.80 83.43 L118.93 86.99 L119.06 82.07 L119.19 86.83 L119.32 83.31 L119.45 85.00 L119.58 83.43 L119.71 84.75 L119.84 83.29 L119.97 85.47 L120.10 81.60 L120.23 85.71 L120.36 82.32 L120.49 85.09 L120.62 81.46 L120.75 83.69 L120.88 81.58 L121.01 85.21 L121.14 81.18 L121.27 84.69 L121.40 81.64 L121.53 83.35 L121.66 80.88 L121.79 83.51 L121.92 80.73 L122.05 84.61 L122.18 81.41 L122.31 83.34 L122.44 80.22 L122.57 83.82 L122.70 81.61 L122.83 82.53 L122.96 81.51 L123.09 83.86 L123.22 80.16 L123.35 82.29 L123.48 80.01 L123.61 83.68 L123.74 80.21 L123.87 82.39 L124.00 80.30 L124.13 81.86 L124.26 81.13 L124.39 83.23 L124.52 79.87 L124.65 82.31 L124.78 79.25 L124.91 82.02 L125.04 79.25 L125.17 82.60 L125.30 80.31 L125.43 81.46 L125.56 80.06 L125.69 81.34 L125.82 79.44 L125.95 81.26 L126.08 79.63 L126.21 80.94 L126.34 78.68 L126.47 81.23 L126.60 79.38 L126.73 81.54 L126.86 78.52 L126.99 81.17 L127.12 78.43 L127.25 81.23 L127.38 79.03 L127.51 81.20 L127.64 79.85 L127.77 80.99 L127.90 79.52 L128.03 80.19 L128.16 78.42 L128.29 80.44 L128.42 78.95 L128.55 81.34 L128.68 78.78 L128.81 80.64 L128.94 78.83 L129.07 81.01 L129.20 78.37 L129.33 80.24 L129.46 78.74 L129.59 80.47 L129.72 79.22 L129.85 81.35 L129.98 78.84 L130.11 80.99 L130.24 78.44 L130.37 81.58 L130.50 78.98 L130.63 81.10 L130.76 78.90 L130.89 80.95 L131.02 78.62 L131.15 80.87 L131.28 78.91 L131.41 80.94 L131.54 78.27 L131.67 81.32 L131.80 78.42 L131.93 81.75 L132.06 79.46 L132.19 81.17 L132.32 78.38 L132.45 81.67 L132.58 79.73 L132.71 80.54 L132.84 79.28 L132.97 80.51 L133.10 79.65 L133.23 80.56 L133.36 78.99 L133.49 81.78 L133.62 78.66 L133.75 80.79 L133.88 79.00 L134.01 81.69 L134.14 80.01 L134.27 82.13 L134.40 78.69 L134.53 81.08 L134.66 78.77 L134.79 81.46 L134.92 79.63 L135.05 82.54 L135.18 79.13 L135.31 81.23 L135.44 79.90 L135.57 81.94 L135.70 80.15 L135.83 81.50 L135.96 80.30 L136.09 82.52 L136.22 80.92 L136.35 82.35 L136.48 80.32 L136.61 81.55 L136.74 80.63 L136.87 82.73 L137.00 80.44 L137.13 81.89 L137.26 79.74 L137.39 83.28 L137.52 79.89 L137.65 82.21 L137.78 81.24 L137.91 82.22 L138.04 80.46 L138.17 82.76 L138.30 81.74 L138.43 83.17 L138.56 80.50 L138.69 84.04 L138.82 81.83 L138.95 83.04 L139.08 80.84 L139.21 83.98 L139.34 81.41 L139.47 83.31 L139.60 82.74 L139.73 84.55 L139.86 82.24 L139.99 83.60 L140.12 81.43 L140.25 84.73 L140.38 81.76 L140.51 83.82 L140.64 81.68 L140.77 83.81 L140.90 81.67 L141.03 84.55 L141.16 82.62 L141.29 84.71 L141.42 81.44 L141.55 84.11 L141.68 82.87 L141.81 84.52 L141.94 82.56 L142.07 83.61 L142.20 82.58 L142.33 83.37 L142.46 82.37 L142.59 83.76 L142.72 82.01 L142.85 84.52 L142.98 81.89 L143.11 83.86 L143.24 81.95 L143.37 83.40 L143.50 82.12 L143.63 83.05 L143.76 81.96 L143.89 83.91 L144.02 80.67 L144.15 82.62 L144.28 80.66 L144.41 84.06 L144.54 81.29 L144.67 83.68 L144.80 80.44 L144.93 82.85 L145.06 79.41 L145.19 82.50 L145.32 79.97 L145.45 83.03 L145.58 78.76 L145.71 82.13 L145.84 78.93 L145.97 82.80 L146.10 79.17 L146.23 82.03 L146.36 79.63 L146.49 81.07 L146.62 79.98 L146.75 80.99 L146.88 78.20 L147.01 81.38 L147.14 79.57 L147.27 80.82 L147.40 77.47 L147.53 83.04 L147.66 77.77 L147.79 81.27 L147.92 78.93 L148.05 81.27 L148.18 78.11 L148.31 80.80 L148.44 78.02 L148.57 81.13 L148.70 76.11 L148.83 83.62 L148.96 77.42 L149.09 81.05 L149.22 75.71 L149.35 81.31 L149.48 77.87 L149.61 80.11 L149.74 77.66 L149.87 82.05 L150.00 77.04 L150.13 80.94 L150.26 76.91 L150.39 80.09 L150.52 77.87 L150.65 80.48 L150.78 77.16 L150.91 80.26 L151.04 78.88 L151.17 81.56 L151.30 77.80 L151.43 83.03 L151.56 76.22 L151.69 84.00 L151.82 75.44 L151.95 83.94 L152.08 74.01 L152.21 82.41 L152.34 76.87 L152.47 86.40 L152.60 77.82 L152.73 85.19 L152.86 74.25 L152.99 80.68 L153.12 72.47 L153.25 87.35 L153.38 73.70 L153.51 86.57 L153.64 71.81 L153.77 81.84 L153.90 73.98 L154.03 85.36 L154.16 70.77 L154.29 88.61 L154.42 70.51 L154.55 86.48 L154.68 70.35 L154.81 87.12 L154.94 72.63 L155.07 82.84 L155.20 78.67 L155.33 81.93 L155.46 76.12 L155.59 81.64 L155.72 72.75 L155.85 84.93 L155.98 74.70 L156.11 85.13 L156.24 74.71 L156.37 83.94 L156.50 79.34 L156.63 85.56 L156.76 75.09 L156.89 83.54 L157.02 76.64 L157.15 84.22 L157.28 79.22 L157.41 84.53 L157.54 78.33 L157.67 81.12 L157.80 78.35 L157.93 84.29 L158.06 78.73 L158.19 84.24 L158.32 75.26 L158.45 83.02 L158.58 78.10 L158.71 82.89 L158.84 76.91 L158.97 84.05 L159.10 77.35 L159.23 83.44 L159.36 79.65 L159.49 81.43 L159.62 79.04 L159.75 83.66 L159.88 78.96 L160.01 82.94 L160.14 80.09 L160.27 81.15 L160.40 79.28 L160.53 83.23 L160.66 77.98 L160.79 83.21 L160.92 79.41 L161.05 82.68 L161.18 78.98 L161.31 82.52 L161.44 80.14 L161.57 83.75 L161.70 80.00 L161.83 83.94 L161.96 78.10 L162.09 81.32 L162.22 79.53 L162.35 83.41 L162.48 78.39 L162.61 82.46 L162.74 80.24 L162.87 81.91 L163.00 78.82 L163.13 81.94 L163.26 79.73 L163.39 81.82 L163.52 79.95 L163.65 83.57 L163.78 80.85 L163.91 83.28 L164.04 80.15 L164.17 83.40 L164.30 79.84 L164.43 82.11 L164.56 79.55 L164.69 82.59 L164.82 81.23 L164.95 81.70 L165.08 80.43 L165.21 82.49 L165.34 80.80 L165.47 81.95 L165.60 80.76 L165.73 82.22 L165.86 80.00 L165.99 81.71 L166.12 80.19 L166.25 82.97 L166.38 81.18 L166.51 83.04 L166.64 80.34 L166.77 82.93 L166.90 80.96 L167.03 82.15 L167.16 80.81 L167.29 82.98 L167.42 80.52 L167.55 82.09 L167.68 80.71 L167.81 81.95 L167.94 81.20 L168.07 81.68 L168.20 80.10 L168.33 81.89 L168.46 79.93 L168.59 81.80 L168.72 80.78 L168.85 82.11 L168.98 80.84 L169.11 81.87 L169.24 79.74 L169.37 82.50 L169.50 79.88 L169.63 82.10 L169.76 79.68 L169.89 82.45 L170.02 80.10 L170.15 82.07 L170.28 80.69 L170.41 82.01 L170.54 80.06 L170.67 81.93 L170.80 79.69 L170.93 81.20 L171.06 80.39 L171.19 81.94 L171.32 80.16 L171.45 81.21 L171.58 79.74 L171.71 80.85 L171.84 79.08 L171.97 81.63 L172.10 79.59 L172.23 81.09 L172.36 79.38 L172.49 80.85 L172.62 79.09 L172.75 80.16 L172.88 79.28 L173.01 80.10 L173.14 78.00 L173.27 80.43 L173.40 78.90 L173.53 80.97 L173.66 77.51 L173.79 80.15 L173.92 78.75 L174.05 79.61 L174.18 78.71 L174.31 79.77 L174.44 78.59 L174.57 79.50 L174.70 78.18 L174.83 80.01 L174.96 76.93 L175.09 80.28 L175.22 77.69 L175.35 79.61 L175.48 77.38 L175.61 79.50 L175.74 77.67 L175.87 78.86 L176.00 77.73 L176.13 80.63 L176.26 78.03 L176.39 79.70 L176.52 77.04 L176.65 80.40 L176.78 77.88 L176.91 79.27 L177.04 77.85 L177.17 79.55 L177.30 77.53 L177.43 80.66 L177.56 76.82 L177.69 80.57 L177.82 78.48 L177.95 79.05 L178.08 77.27 L178.21 80.76 L178.34 77.82 L178.47 80.27 L178.60 78.81 L178.73 80.01 L178.86 77.21 L178.99 80.91 L179.12 77.46 L179.25 81.28 L179.38 78.70 L179.51 79.82 L179.64 78.99 L179.77 80.68 L179.90 78.15 L180.03 81.54 L180.16 78.20 L180.29 81.10 L180.42 78.23 L180.55 80.86 L180.68 78.71 L180.81 80.20 L180.94 78.40 L181.07 80.63 L181.20 78.24 L181.33 81.43 L181.46 79.42 L181.59 80.60 L181.72 79.59 L181.85 81.58 L181.98 78.91 L182.11 80.75 L182.24 80.09 L182.37 81.55 L182.50 79.30 L182.63 81.40 L182.76 80.01 L182.89 81.85 L183.02 80.46 L183.15 81.42 L183.28 79.79 L183.41 82.62 L183.54 79.57 L183.67 82.57 L183.80 79.95 L183.93 81.56 L184.06 80.42 L184.19 82.85 L184.32 79.74 L184.45 81.83 L184.58 80.96 L184.71 82.22 L184.84 79.95 L184.97 82.16 L185.10 80.71 L185.23 82.63 L185.36 79.68 L185.49 81.96 L185.62 81.20 L185.75 82.19 L185.88 80.62 L186.01 82.79 L186.14 81.01 L186.27 83.04 L186.40 80.12 L186.53 82.61 L186.66 81.03 L186.79 83.46 L186.92 80.84 L187.05 83.26 L187.18 80.98 L187.31 82.20 L187.44 79.99 L187.57 82.36 L187.70 79.59 L187.83 82.74 L187.96 81.00 L188.09 82.22 L188.22 80.52 L188.35 83.09 L188.48 79.41 L188.61 82.04 L188.74 80.47 L188.87 82.16 L189.00 79.20 L189.13 81.98 L189.26 81.08 L189.39 81.78 L189.52 80.29 L189.65 83.58 L189.78 79.14 L189.91 83.20 L190.04 78.78 L190.17 83.69 L190.30 80.18 L190.43 81.93 L190.56 78.55 L190.69 83.32 L190.82 80.71 L190.95 83.13 L191.08 79.67 L191.21 82.32 L191.34 79.65 L191.47 81.68 L191.60 80.48 L191.73 81.95 L191.86 79.29 L191.99 84.03 L192.12 79.87 L192.25 84.08 L192.38 79.47 L192.51 82.05 L192.64 77.22 L192.77 83.64 L192.90 78.40 L193.03 80.87 L193.16 78.05 L193.29 82.07 L193.42 76.06 L193.55 81.36 L193.68 78.08 L193.81 84.41 L193.94 79.39 L194.07 82.36 L194.20 75.63 L194.33 84.13 L194.46 79.14 L194.59 80.59 L194.72 78.92 L194.85 85.21 L194.98 77.77 L195.11 84.43 L195.24 74.01 L195.37 82.23 L195.50 77.37 L195.63 85.96 L195.76 75.13 L195.89 81.84 L196.02 74.26 L196.15 82.29 L196.28 76.83 L196.41 80.25 L196.54 73.13 L196.67 87.14 L196.80 73.65 L196.93 87.82 L197.06 78.30 L197.19 82.33 L197.32 74.33 L197.45 88.94 L197.58 70.06 L197.71 83.69 L197.84 76.51 L197.97 83.76 L198.10 74.95 L198.23 87.09 L198.36 77.55 L198.49 85.67 L198.62 74.30 L198.75 85.30 L198.88 74.71 L199.01 83.66 L199.14 77.55 L199.27 82.05 L199.40 77.64 L199.53 84.17 L199.66 79.19 L199.79 81.43 L199.92 76.56 L200.05 81.64 L200.18 79.60 L200.31 80.85 L200.44 78.09 L200.57 81.88 L200.70 77.12 L200.83 83.48 L200.96 77.60 L201.09 81.68 L201.22 80.26 L201.35 81.31 L201.48 79.47 L201.61 82.75 L201.74 79.82 L201.87 81.75 L202.00 80.12 L202.13 82.48 L202.26 79.92 L202.39 82.65 L202.52 79.95 L202.65 82.47 L202.78 81.18 L202.91 82.62 L203.04 81.15 L203.17 82.32 L203.30 81.22 L203.43 82.50 L203.56 81.52 L203.69 82.12 L203.82 81.62 L203.95 82.12 L204.08 81.35 L204.21 82.46 L204.34 81.87 L204.47 82.41 L204.60 81.75 L204.73 82.52 L204.86 82.24 L204.99 82.67 L205.12 82.28 L205.25 82.83 L205.38 82.56 L205.51 82.81 L205.64 82.52 L205.77 83.02 L205.90 82.63" stroke="#0000ff" stroke-width="1.0" fill="none" stroke-linejoin="round"/><path d="M105.80 80.40 L106.12 80.52 L106.54 80.69 L107.03 80.89 L107.59 81.11 L108.18 81.34 L108.80 81.57 L109.41 81.79 L110.00 82.00 L110.48 82.15 L110.98 82.31 L111.50 82.46 L112.04 82.61 L112.58 82.76 L113.11 82.90 L113.62 83.05 L114.12 83.20 L114.58 83.35 L115.00 83.50 L115.60 83.80 L116.11 84.15 L116.56 84.50 L117.00 84.80 L117.47 84.98 L118.00 85.00 L118.44 84.88 L118.88 84.66 L119.34 84.36 L119.81 84.00 L120.31 83.61 L120.84 83.22 L121.40 82.84 L122.00 82.50 L122.43 82.28 L122.88 82.05 L123.36 81.81 L123.85 81.56 L124.36 81.31 L124.88 81.07 L125.40 80.84 L125.93 80.62 L126.45 80.42 L126.98 80.25 L127.49 80.11 L128.00 80.00 L128.51 79.93 L129.02 79.88 L129.55 79.87 L130.07 79.87 L130.60 79.90 L131.12 79.94 L131.64 80.00 L132.15 80.07 L132.64 80.15 L133.12 80.23 L133.57 80.32 L134.00 80.40 L134.60 80.54 L135.16 80.72 L135.69 80.92 L136.19 81.13 L136.66 81.35 L137.12 81.58 L137.56 81.80 L138.00 82.00 L138.55 82.30 L139.04 82.64 L139.50 82.97 L139.96 83.26 L140.45 83.45 L141.00 83.50 L141.46 83.41 L141.95 83.23 L142.47 82.98 L143.00 82.69 L143.53 82.37 L144.05 82.05 L144.54 81.75 L145.00 81.50 L145.55 81.21 L146.04 80.93 L146.50 80.66 L146.96 80.41 L147.45 80.19 L148.00 80.00 L148.45 79.88 L148.93 79.78 L149.43 79.70 L149.94 79.62 L150.46 79.57 L150.98 79.53 L151.49 79.51 L152.00 79.50 L152.50 79.51 L153.00 79.55 L153.50 79.61 L154.00 79.69 L154.50 79.77 L155.00 79.85 L155.50 79.93 L156.00 80.00 L156.49 80.06 L156.98 80.11 L157.46 80.17 L157.94 80.22 L158.43 80.28 L158.93 80.34 L159.45 80.41 L160.00 80.50 L160.46 80.59 L160.94 80.69 L161.43 80.81 L161.93 80.94 L162.44 81.06 L162.95 81.18 L163.47 81.29 L163.98 81.39 L164.50 81.46 L165.00 81.50 L165.50 81.52 L165.98 81.53 L166.47 81.52 L166.95 81.50 L167.44 81.47 L167.93 81.42 L168.43 81.34 L168.94 81.25 L169.46 81.14 L170.00 81.00 L170.47 80.85 L170.95 80.65 L171.45 80.42 L171.96 80.17 L172.48 79.90 L173.00 79.62 L173.52 79.36 L174.04 79.11 L174.55 78.89 L175.05 78.71 L175.53 78.57 L176.00 78.50 L176.54 78.49 L177.06 78.54 L177.57 78.66 L178.07 78.81 L178.56 79.00 L179.05 79.21 L179.53 79.42 L180.02 79.64 L180.50 79.83 L181.00 80.00 L181.50 80.16 L182.02 80.33 L182.53 80.50 L183.05 80.68 L183.56 80.86 L184.07 81.02 L184.57 81.17 L185.06 81.31 L185.54 81.42 L186.00 81.50 L186.55 81.56 L187.07 81.60 L187.57 81.60 L188.06 81.57 L188.54 81.53 L189.02 81.47 L189.51 81.39 L190.00 81.30 L190.50 81.18 L191.00 81.03 L191.50 80.86 L192.00 80.67 L192.50 80.48 L193.00 80.29 L193.50 80.13 L194.00 80.00 L194.49 79.88 L194.96 79.75 L195.43 79.63 L195.90 79.52 L196.38 79.45 L196.89 79.41 L197.42 79.42 L198.00 79.50 L198.45 79.61 L198.92 79.75 L199.41 79.94 L199.91 80.15 L200.43 80.38 L200.95 80.62 L201.48 80.88 L202.02 81.13 L202.55 81.37 L203.08 81.60 L203.60 81.80 L204.11 82.00 L204.60 82.23 L205.09 82.47 L205.58 82.71 L206.07 82.94 L206.56 83.16 L207.08 83.35 L207.61 83.51 L208.17 83.63 L208.77 83.69 L209.40 83.70 L209.83 83.65 L210.27 83.56 L210.71 83.42 L211.17 83.25 L211.64 83.05 L212.12 82.82 L212.60 82.59 L213.10 82.35 L213.60 82.11 L214.12 81.89 L214.64 81.68 L215.18 81.49 L215.72 81.34 L216.28 81.22 L216.84 81.16 L217.42 81.15 L218.00 81.20 L218.46 81.29 L218.94 81.42 L219.43 81.59 L219.93 81.80 L220.44 82.04 L220.96 82.30 L221.48 82.59 L222.02 82.89 L222.55 83.21 L223.09 83.53 L223.64 83.86 L224.18 84.19 L224.73 84.52 L225.27 84.84 L225.81 85.15 L226.35 85.44 L226.88 85.71 L227.40 85.96 L227.91 86.17 L228.42 86.35 L228.92 86.50 L229.40 86.60 L229.95 86.66 L230.48 86.67 L231.01 86.62 L231.53 86.53 L232.03 86.40 L232.54 86.25 L233.03 86.07 L233.53 85.88 L234.02 85.68 L234.51 85.47 L234.99 85.27 L235.48 85.09 L235.97 84.92 L236.46 84.78 L236.96 84.67 L237.46 84.60 L237.96 84.58 L238.48 84.61 L239.00 84.70 L239.50 84.85 L240.02 85.05 L240.53 85.30 L241.06 85.60 L241.59 85.94 L242.12 86.30 L242.65 86.70 L243.19 87.11 L243.73 87.53 L244.26 87.96 L244.80 88.39 L245.33 88.82 L245.86 89.24 L246.39 89.63 L246.91 90.01 L247.42 90.35 L247.93 90.66 L248.43 90.92 L248.92 91.14 L249.40 91.30 L249.96 91.43 L250.53 91.50 L251.10 91.53 L251.67 91.51 L252.24 91.46 L252.80 91.37 L253.36 91.26 L253.91 91.13 L254.44 90.99 L254.96 90.84 L255.47 90.68 L255.95 90.53 L256.41 90.38 L256.85 90.25 L257.26 90.14 L257.65 90.06 L258.00 90.00 L258.87 89.83 L259.35 89.65 L259.68 89.56 L260.08 89.64 L260.80 90.00 L261.19 90.24 L261.64 90.56 L262.12 90.93 L262.64 91.35 L263.18 91.81 L263.75 92.29 L264.32 92.78 L264.89 93.27 L265.46 93.75 L266.01 94.20 L266.54 94.62 L267.04 94.99 L267.50 95.30 L268.10 95.68 L268.64 96.00 L269.14 96.29 L269.62 96.53 L270.08 96.73 L270.56 96.90 L271.06 97.03 L271.60 97.13 L272.20 97.20 L272.65 97.21 L273.13 97.16 L273.63 97.07 L274.15 96.95 L274.68 96.80 L275.22 96.65 L275.76 96.50 L276.30 96.37 L276.85 96.26 L277.38 96.18 L277.90 96.16 L278.41 96.19 L278.90 96.30 L279.46 96.52 L280.00 96.81 L280.52 97.18 L281.04 97.59 L281.55 98.05 L282.06 98.54 L282.56 99.05 L283.07 99.56 L283.57 100.06 L284.08 100.55 L284.60 101.00 L285.12 101.45 L285.65 101.94 L286.18 102.44 L286.71 102.96 L287.24 103.47 L287.77 103.96 L288.30 104.43 L288.83 104.86 L289.36 105.24 L289.88 105.56 L290.40 105.80 L290.92 105.94 L291.43 105.98 L291.94 105.94 L292.44 105.84 L292.95 105.71 L293.45 105.56 L293.96 105.43 L294.46 105.32 L294.97 105.26 L295.48 105.28 L296.00 105.40 L296.52 105.60 L297.04 105.86 L297.57 106.17 L298.10 106.53 L298.63 106.91 L299.16 107.33 L299.69 107.77 L300.22 108.22 L300.75 108.68 L301.28 109.14 L301.80 109.60 L302.32 110.08 L302.84 110.60 L303.36 111.16 L303.88 111.74 L304.39 112.33 L304.91 112.92 L305.42 113.48 L305.94 114.02 L306.46 114.51 L306.98 114.94 L307.50 115.30 L308.03 115.59 L308.56 115.83 L309.10 116.02 L309.65 116.18 L310.19 116.29 L310.73 116.39 L311.27 116.46 L311.79 116.52 L312.31 116.58 L312.81 116.63 L313.30 116.70 L313.88 116.75 L314.44 116.73 L314.99 116.67 L315.52 116.60 L316.04 116.54 L316.55 116.51 L317.04 116.55 L317.53 116.67 L318.00 116.90 L318.56 117.36 L319.07 117.97 L319.55 118.69 L320.02 119.48 L320.52 120.32 L321.07 121.17 L321.70 122.00 L322.15 122.54 L322.62 123.13 L323.11 123.76 L323.62 124.40 L324.15 125.05 L324.69 125.68 L325.24 126.30 L325.80 126.87 L326.37 127.39 L326.93 127.84 L327.50 128.20 L327.98 128.43 L328.48 128.57 L328.98 128.66 L329.50 128.69 L330.02 128.69 L330.54 128.67 L331.06 128.63 L331.58 128.60 L332.10 128.59 L332.62 128.61 L333.12 128.68 L333.62 128.80 L334.10 129.00 L334.66 129.32 L335.20 129.69 L335.74 130.12 L336.27 130.60 L336.80 131.10 L337.32 131.64 L337.83 132.19 L338.35 132.75 L338.86 133.31 L339.38 133.87 L339.90 134.40 L340.42 134.94 L340.93 135.52 L341.43 136.13 L341.94 136.74 L342.44 137.36 L342.95 137.97 L343.46 138.56 L343.98 139.12 L344.50 139.64 L345.04 140.10 L345.60 140.50 L346.09 140.78 L346.60 141.00 L347.12 141.17 L347.65 141.31 L348.20 141.42 L348.74 141.51 L349.28 141.60 L349.82 141.68 L350.35 141.77 L350.87 141.88 L351.37 142.01 L351.85 142.18 L352.30 142.40 L352.91 142.77 L353.48 143.18 L354.01 143.63 L354.52 144.11 L355.01 144.62 L355.50 145.14 L355.99 145.69 L356.48 146.24 L357.00 146.80 L357.54 147.40 L358.10 148.05 L358.68 148.75 L359.25 149.46 L359.82 150.16 L360.37 150.84 L360.89 151.47 L361.37 152.03 L361.80 152.50 L362.40 153.13 L362.81 153.55 L363.18 153.85 L363.63 154.07 L364.30 154.30 L364.70 154.39 L365.16 154.45 L365.66 154.49 L366.20 154.51 L366.75 154.53 L367.32 154.55 L367.90 154.58 L368.46 154.63 L369.01 154.71 L369.52 154.83 L370.00 155.00 L370.60 155.30 L371.17 155.67 L371.72 156.09 L372.24 156.56 L372.75 157.05 L373.26 157.56 L373.77 158.08 L374.30 158.60 L374.83 159.15 L375.34 159.77 L375.85 160.42 L376.36 161.07 L376.88 161.71 L377.42 162.29 L377.99 162.80 L378.60 163.20 L379.08 163.41 L379.58 163.57 L380.11 163.69 L380.66 163.76 L381.22 163.81 L381.78 163.84 L382.34 163.85 L382.89 163.87 L383.42 163.89 L383.92 163.93 L384.40 164.00 L385.00 164.09 L385.55 164.17 L386.06 164.23 L386.56 164.30 L387.05 164.40 L387.56 164.53 L388.11 164.73 L388.70 165.00 L389.18 165.26 L389.69 165.59 L390.23 165.97 L390.79 166.39 L391.36 166.82 L391.93 167.26 L392.48 167.68 L393.02 168.09 L393.52 168.45 L393.99 168.76 L394.40 169.00 L395.10 169.36 L395.58 169.58 L396.00 169.65 L396.49 169.59 L397.20 169.40 L397.61 169.25 L398.07 169.02 L398.57 168.74 L399.09 168.42 L399.64 168.09 L400.20 167.74 L400.77 167.41 L401.34 167.10 L401.91 166.83 L402.47 166.63 L403.00 166.50 L403.53 166.45 L404.06 166.47 L404.60 166.55 L405.14 166.66 L405.68 166.80 L406.21 166.96 L406.73 167.12 L407.25 167.27 L407.75 167.39 L408.23 167.47 L408.70 167.50 L409.30 167.49 L409.87 167.45 L410.42 167.38 L410.94 167.28 L411.45 167.15 L411.96 166.97 L412.47 166.76 L413.00 166.50 L413.54 166.18 L414.08 165.79 L414.62 165.34 L415.16 164.87 L415.69 164.38 L416.23 163.89 L416.77 163.43 L417.30 163.00 L417.82 162.60 L418.34 162.21 L418.85 161.83 L419.36 161.46 L419.87 161.10 L420.40 160.75 L420.94 160.42 L421.50 160.10 L421.97 159.88 L422.45 159.70 L422.94 159.55 L423.44 159.41 L423.95 159.27 L424.46 159.12 L424.97 158.93 L425.49 158.69 L426.00 158.38 L426.50 158.00 L427.01 157.51 L427.52 156.92 L428.05 156.25 L428.57 155.52 L429.09 154.78 L429.61 154.02 L430.11 153.29 L430.60 152.61 L431.06 152.01 L431.50 151.50 L432.07 150.92 L432.58 150.45 L433.06 150.07 L433.52 149.76 L433.98 149.49 L434.47 149.24 L435.00 149.00 L435.50 148.84 L436.02 148.76 L436.56 148.73 L437.11 148.71 L437.67 148.66 L438.24 148.55 L438.82 148.34 L439.40 148.00 L439.88 147.59 L440.38 147.08 L440.90 146.47 L441.42 145.81 L441.95 145.12 L442.47 144.43 L442.98 143.77 L443.48 143.16 L443.95 142.62 L444.40 142.20 L444.98 141.75 L445.49 141.41 L445.97 141.17 L446.43 141.00 L446.91 140.90 L447.42 140.84 L448.00 140.80 L448.44 140.82 L448.91 140.92 L449.40 141.07 L449.90 141.24 L450.41 141.43 L450.93 141.61 L451.46 141.76 L451.98 141.85 L452.49 141.87 L453.00 141.80 L453.50 141.62 L454.00 141.35 L454.50 141.01 L455.00 140.61 L455.50 140.18 L456.00 139.74 L456.50 139.32 L457.00 138.92 L457.50 138.57 L458.00 138.30 L458.51 138.10 L459.03 137.96 L459.57 137.85 L460.10 137.77 L460.63 137.71 L461.15 137.65 L461.65 137.59 L462.13 137.50 L462.59 137.37 L463.00 137.20 L463.73 136.78 L464.35 136.30 L464.90 135.75 L465.40 135.09 L465.90 134.30 L466.50 133.07 L467.04 131.62 L467.54 130.09 L468.00 128.60 L468.54 126.71 L469.02 124.81 L469.50 122.90 L470.06 120.73 L470.61 118.54 L471.00 117.00" stroke="#0000ff" stroke-width="1.9" fill="none" stroke-linejoin="round"/></g><g clip-path="url(#cr)"><path d="M510.30 128.20 L510.42 128.20 L510.54 128.21 L510.67 128.21 L510.79 128.22 L510.91 128.24 L511.03 128.25 L511.15 128.27 L511.27 128.29 L511.40 128.32 L511.52 128.34 L511.64 128.37 L511.76 128.40 L511.88 128.44 L512.01 128.47 L512.13 128.51 L512.25 128.55 L512.37 128.59 L512.49 128.64 L512.61 128.68 L512.74 128.73 L512.86 128.77 L512.98 128.82 L513.10 128.87 L513.22 128.92 L513.35 128.97 L513.47 129.02 L513.59 129.07 L513.71 129.13 L513.83 129.18 L513.95 129.23 L514.08 129.28 L514.20 129.33 L514.32 129.38 L514.44 129.43 L514.56 129.47 L514.69 129.52 L514.81 129.56 L514.93 129.61 L515.05 129.65 L515.17 129.69 L515.29 129.73 L515.42 129.76 L515.54 129.80 L515.66 129.83 L515.78 129.86 L515.90 129.88 L516.03 129.91 L516.15 129.93 L516.27 129.95 L516.39 129.96 L516.51 129.98 L516.63 129.99 L516.76 129.99 L516.88 130.00 L517.00 130.00 L517.12 130.00 L517.24 130.00 L517.36 129.99 L517.48 129.98 L517.60 129.97 L517.72 129.96 L517.84 129.94 L517.97 129.92 L518.09 129.90 L518.21 129.88 L518.33 129.85 L518.45 129.82 L518.57 129.79 L518.69 129.76 L518.81 129.73 L518.93 129.69 L519.05 129.65 L519.17 129.61 L519.29 129.57 L519.41 129.53 L519.53 129.48 L519.66 129.43 L519.78 129.38 L519.90 129.33 L520.02 129.28 L520.14 129.22 L520.26 129.17 L520.38 129.11 L520.50 129.05 L520.62 128.99 L520.74 128.93 L520.86 128.87 L520.98 128.80 L521.10 128.74 L521.22 128.67 L521.34 128.61 L521.47 128.54 L521.59 128.47 L521.71 128.41 L521.83 128.34 L521.95 128.27 L522.07 128.20 L522.19 128.13 L522.31 128.07 L522.43 128.00 L522.55 127.93 L522.67 127.86 L522.79 127.79 L522.91 127.73 L523.03 127.66 L523.16 127.59 L523.28 127.53 L523.40 127.46 L523.52 127.40 L523.64 127.33 L523.76 127.27 L523.88 127.21 L524.00 127.15 L524.12 127.09 L524.24 127.03 L524.36 126.98 L524.48 126.92 L524.60 126.87 L524.72 126.82 L524.84 126.77 L524.97 126.72 L525.09 126.67 L525.21 126.63 L525.33 126.59 L525.45 126.55 L525.57 126.51 L525.69 126.47 L525.81 126.44 L525.93 126.41 L526.05 126.38 L526.17 126.35 L526.29 126.32 L526.41 126.30 L526.53 126.28 L526.66 126.26 L526.78 126.24 L526.90 126.23 L527.02 126.22 L527.14 126.21 L527.26 126.20 L527.38 126.20 L527.50 126.20 L527.62 126.20 L527.74 126.20 L527.86 126.21 L527.98 126.21 L528.10 126.22 L528.23 126.23 L528.35 126.24 L528.47 126.26 L528.59 126.27 L528.71 126.29 L528.83 126.31 L528.95 126.33 L529.07 126.35 L529.19 126.37 L529.31 126.40 L529.43 126.43 L529.56 126.45 L529.68 126.48 L529.80 126.52 L529.92 126.55 L530.04 126.58 L530.16 126.62 L530.28 126.66 L530.40 126.70 L530.52 126.74 L530.64 126.78 L530.76 126.82 L530.89 126.87 L531.01 126.91 L531.13 126.96 L531.25 127.01 L531.37 127.06 L531.49 127.11 L531.61 127.16 L531.73 127.21 L531.85 127.26 L531.97 127.32 L532.09 127.37 L532.22 127.43 L532.34 127.49 L532.46 127.54 L532.58 127.60 L532.70 127.66 L532.82 127.72 L532.94 127.78 L533.06 127.84 L533.18 127.90 L533.30 127.96 L533.42 128.02 L533.55 128.09 L533.67 128.15 L533.79 128.21 L533.91 128.27 L534.03 128.34 L534.15 128.40 L534.27 128.46 L534.39 128.53 L534.51 128.59 L534.63 128.65 L534.75 128.71 L534.88 128.78 L535.00 128.84 L535.12 128.90 L535.24 128.96 L535.36 129.02 L535.48 129.08 L535.60 129.14 L535.72 129.20 L535.84 129.26 L535.96 129.31 L536.08 129.37 L536.21 129.43 L536.33 129.48 L536.45 129.54 L536.57 129.59 L536.69 129.64 L536.81 129.69 L536.93 129.74 L537.05 129.79 L537.17 129.84 L537.29 129.89 L537.41 129.93 L537.54 129.98 L537.66 130.02 L537.78 130.06 L537.90 130.10 L538.02 130.14 L538.14 130.18 L538.26 130.22 L538.38 130.25 L538.50 130.28 L538.62 130.32 L538.74 130.35 L538.87 130.37 L538.99 130.40 L539.11 130.43 L539.23 130.45 L539.35 130.47 L539.47 130.49 L539.59 130.51 L539.71 130.53 L539.83 130.54 L539.95 130.56 L540.07 130.57 L540.20 130.58 L540.32 130.59 L540.44 130.59 L540.56 130.60 L540.68 130.60 L540.80 130.60 L540.92 130.60 L541.04 130.60 L541.16 130.59 L541.28 130.59 L541.40 130.58 L541.52 130.57 L541.64 130.56 L541.76 130.55 L541.88 130.54 L542.00 130.52 L542.12 130.51 L542.24 130.49 L542.36 130.47 L542.48 130.45 L542.61 130.43 L542.73 130.41 L542.85 130.38 L542.97 130.36 L543.09 130.33 L543.21 130.30 L543.33 130.27 L543.45 130.24 L543.57 130.21 L543.69 130.18 L543.81 130.14 L543.93 130.11 L544.05 130.07 L544.17 130.03 L544.29 129.99 L544.41 129.95 L544.53 129.91 L544.65 129.87 L544.77 129.82 L544.89 129.78 L545.01 129.73 L545.13 129.69 L545.25 129.64 L545.37 129.59 L545.49 129.54 L545.61 129.49 L545.73 129.44 L545.85 129.39 L545.97 129.34 L546.09 129.29 L546.22 129.23 L546.34 129.18 L546.46 129.13 L546.58 129.07 L546.70 129.02 L546.82 128.96 L546.94 128.90 L547.06 128.85 L547.18 128.79 L547.30 128.74 L547.42 128.68 L547.54 128.62 L547.66 128.56 L547.78 128.51 L547.90 128.45 L548.02 128.39 L548.14 128.34 L548.26 128.28 L548.38 128.22 L548.50 128.16 L548.62 128.11 L548.74 128.05 L548.86 128.00 L548.98 127.94 L549.10 127.88 L549.22 127.83 L549.34 127.77 L549.46 127.72 L549.58 127.67 L549.71 127.61 L549.83 127.56 L549.95 127.51 L550.07 127.46 L550.19 127.41 L550.31 127.36 L550.43 127.31 L550.55 127.26 L550.67 127.21 L550.79 127.17 L550.91 127.12 L551.03 127.08 L551.15 127.03 L551.27 126.99 L551.39 126.95 L551.51 126.91 L551.63 126.87 L551.75 126.83 L551.87 126.79 L551.99 126.76 L552.11 126.72 L552.23 126.69 L552.35 126.66 L552.47 126.63 L552.59 126.60 L552.71 126.57 L552.83 126.54 L552.95 126.52 L553.07 126.49 L553.19 126.47 L553.32 126.45 L553.44 126.43 L553.56 126.41 L553.68 126.39 L553.80 126.38 L553.92 126.36 L554.04 126.35 L554.16 126.34 L554.28 126.33 L554.40 126.32 L554.52 126.31 L554.64 126.31 L554.76 126.30 L554.88 126.30 L555.00 126.30 L555.12 126.30 L555.24 126.31 L555.37 126.32 L555.49 126.33 L555.61 126.35 L555.73 126.38 L555.85 126.40 L555.97 126.43 L556.10 126.47 L556.22 126.51 L556.34 126.55 L556.46 126.60 L556.58 126.65 L556.70 126.70 L556.83 126.75 L556.95 126.81 L557.07 126.87 L557.19 126.94 L557.31 127.01 L557.43 127.08 L557.55 127.15 L557.68 127.22 L557.80 127.29 L557.92 127.37 L558.04 127.45 L558.16 127.53 L558.28 127.61 L558.41 127.69 L558.53 127.77 L558.65 127.85 L558.77 127.93 L558.89 128.01 L559.01 128.09 L559.14 128.17 L559.26 128.25 L559.38 128.33 L559.50 128.41 L559.62 128.48 L559.75 128.55 L559.87 128.62 L559.99 128.69 L560.11 128.76 L560.23 128.83 L560.35 128.89 L560.47 128.95 L560.60 129.00 L560.72 129.05 L560.84 129.10 L560.96 129.15 L561.08 129.19 L561.20 129.23 L561.33 129.27 L561.45 129.30 L561.57 129.32 L561.69 129.35 L561.81 129.37 L561.93 129.38 L562.06 129.39 L562.18 129.40 L562.30 129.40 L562.42 129.40 L562.54 129.39 L562.66 129.38 L562.78 129.37 L562.90 129.36 L563.02 129.34 L563.14 129.32 L563.26 129.29 L563.38 129.26 L563.50 129.23 L563.62 129.20 L563.74 129.16 L563.86 129.12 L563.98 129.08 L564.11 129.04 L564.23 128.99 L564.35 128.94 L564.47 128.89 L564.59 128.84 L564.71 128.78 L564.83 128.72 L564.95 128.67 L565.07 128.61 L565.19 128.55 L565.31 128.48 L565.43 128.42 L565.55 128.36 L565.67 128.30 L565.79 128.23 L565.91 128.17 L566.03 128.10 L566.15 128.04 L566.27 127.98 L566.39 127.92 L566.51 127.85 L566.63 127.79 L566.75 127.73 L566.87 127.68 L566.99 127.62 L567.11 127.56 L567.23 127.51 L567.35 127.46 L567.47 127.41 L567.59 127.36 L567.72 127.32 L567.84 127.28 L567.96 127.24 L568.08 127.20 L568.20 127.17 L568.32 127.14 L568.44 127.11 L568.56 127.08 L568.68 127.06 L568.80 127.04 L568.92 127.03 L569.04 127.02 L569.16 127.01 L569.28 127.00 L569.40 127.00 L569.52 127.01 L569.64 127.02 L569.76 127.05 L569.88 127.08 L570.00 127.13 L570.12 127.19 L570.24 127.25 L570.36 127.33 L570.48 127.42 L570.60 127.52 L570.72 127.62 L570.84 127.74 L570.96 127.87 L571.08 128.01 L571.20 128.15 L571.32 128.31 L571.44 128.47 L571.56 128.65 L571.68 128.83 L571.80 129.02 L571.92 129.23 L572.04 129.44 L572.16 129.65 L572.28 129.88 L572.40 130.11 L572.52 130.36 L572.64 130.61 L572.76 130.86 L572.88 131.13 L573.00 131.40 L573.12 131.68 L573.24 131.96 L573.36 132.26 L573.48 132.55 L573.60 132.86 L573.72 133.17 L573.84 133.48 L573.96 133.80 L574.08 134.12 L574.20 134.45 L574.32 134.79 L574.44 135.12 L574.56 135.47 L574.68 135.81 L574.80 136.16 L574.92 136.51 L575.04 136.86 L575.16 137.22 L575.28 137.58 L575.40 137.94 L575.52 138.30 L575.64 138.66 L575.76 139.02 L575.88 139.39 L576.00 139.75 L576.12 140.11 L576.24 140.48 L576.36 140.84 L576.48 141.20 L576.60 141.56 L576.72 141.92 L576.84 142.28 L576.96 142.64 L577.08 142.99 L577.20 143.34 L577.32 143.69 L577.44 144.03 L577.56 144.38 L577.68 144.71 L577.80 145.05 L577.92 145.38 L578.04 145.70 L578.16 146.02 L578.28 146.33 L578.40 146.64 L578.52 146.95 L578.64 147.24 L578.76 147.54 L578.88 147.82 L579.00 148.10 L579.12 148.37 L579.24 148.64 L579.36 148.89 L579.48 149.14 L579.60 149.39 L579.72 149.62 L579.84 149.85 L579.96 150.06 L580.08 150.27 L580.20 150.48 L580.32 150.67 L580.44 150.85 L580.56 151.03 L580.68 151.19 L580.80 151.35 L580.92 151.49 L581.04 151.63 L581.16 151.76 L581.28 151.88 L581.40 151.98 L581.52 152.08 L581.64 152.17 L581.76 152.25 L581.88 152.31 L582.00 152.37 L582.12 152.42 L582.24 152.45 L582.36 152.48 L582.48 152.49 L582.60 152.50 L582.72 152.49 L582.84 152.46 L582.96 152.40 L583.08 152.32 L583.20 152.22 L583.32 152.10 L583.44 151.96 L583.56 151.79 L583.69 151.61 L583.81 151.40 L583.93 151.17 L584.05 150.92 L584.17 150.64 L584.29 150.35 L584.41 150.04 L584.53 149.70 L584.65 149.34 L584.77 148.97 L584.89 148.57 L585.01 148.16 L585.13 147.72 L585.25 147.26 L585.37 146.79 L585.49 146.30 L585.62 145.79 L585.74 145.26 L585.86 144.71 L585.98 144.14 L586.10 143.56 L586.22 142.96 L586.34 142.34 L586.46 141.71 L586.58 141.06 L586.70 140.40 L586.82 139.72 L586.94 139.02 L587.06 138.31 L587.18 137.59 L587.30 136.85 L587.42 136.10 L587.55 135.34 L587.67 134.57 L587.79 133.78 L587.91 132.98 L588.03 132.17 L588.15 131.36 L588.27 130.53 L588.39 129.69 L588.51 128.84 L588.63 127.98 L588.75 127.12 L588.87 126.25 L588.99 125.37 L589.11 124.48 L589.23 123.59 L589.35 122.70 L589.47 121.79 L589.60 120.89 L589.72 119.98 L589.84 119.06 L589.96 118.15 L590.08 117.23 L590.20 116.31 L590.32 115.38 L590.44 114.46 L590.56 113.54 L590.68 112.62 L590.80 111.69 L590.92 110.77 L591.04 109.85 L591.16 108.94 L591.28 108.02 L591.40 107.11 L591.53 106.21 L591.65 105.30 L591.77 104.41 L591.89 103.52 L592.01 102.63 L592.13 101.75 L592.25 100.88 L592.37 100.02 L592.49 99.16 L592.61 98.31 L592.73 97.47 L592.85 96.64 L592.97 95.83 L593.09 95.02 L593.21 94.22 L593.33 93.43 L593.45 92.66 L593.58 91.90 L593.70 91.15 L593.82 90.41 L593.94 89.69 L594.06 88.98 L594.18 88.28 L594.30 87.60 L594.42 86.94 L594.54 86.29 L594.66 85.66 L594.78 85.04 L594.90 84.44 L595.02 83.86 L595.14 83.29 L595.26 82.74 L595.38 82.21 L595.51 81.70 L595.63 81.21 L595.75 80.74 L595.87 80.28 L595.99 79.84 L596.11 79.43 L596.23 79.03 L596.35 78.66 L596.47 78.30 L596.59 77.96 L596.71 77.65 L596.83 77.36 L596.95 77.08 L597.07 76.83 L597.19 76.60 L597.31 76.39 L597.44 76.21 L597.56 76.04 L597.68 75.90 L597.80 75.78 L597.92 75.68 L598.04 75.60 L598.16 75.54 L598.28 75.51 L598.40 75.50 L598.52 75.55 L598.64 75.69 L598.76 75.93 L598.88 76.27 L599.00 76.69 L599.12 77.22 L599.24 77.83 L599.36 78.54 L599.48 79.34 L599.60 80.22 L599.72 81.20 L599.84 82.26 L599.96 83.40 L600.08 84.63 L600.20 85.94 L600.32 87.32 L600.44 88.78 L600.56 90.31 L600.68 91.91 L600.80 93.58 L600.92 95.31 L601.04 97.11 L601.16 98.96 L601.28 100.87 L601.40 102.82 L601.52 104.83 L601.64 106.88 L601.76 108.97 L601.88 111.10 L602.00 113.26 L602.12 115.45 L602.24 117.67 L602.36 119.91 L602.48 122.17 L602.60 124.44 L602.72 126.72 L602.84 129.01 L602.96 131.29 L603.08 133.58 L603.20 135.86 L603.32 138.13 L603.44 140.39 L603.56 142.63 L603.68 144.85 L603.80 147.04 L603.92 149.20 L604.04 151.33 L604.16 153.42 L604.28 155.47 L604.40 157.47 L604.52 159.43 L604.64 161.34 L604.76 163.19 L604.88 164.99 L605.00 166.72 L605.12 168.39 L605.24 169.99 L605.36 171.52 L605.48 172.98 L605.60 174.36 L605.72 175.67 L605.84 176.90 L605.96 178.04 L606.08 179.10 L606.20 180.08 L606.32 180.96 L606.44 181.76 L606.56 182.47 L606.68 183.08 L606.80 183.61 L606.92 184.03 L607.04 184.37 L607.16 184.61 L607.28 184.75 L607.40 184.80 L607.52 184.77 L607.64 184.67 L607.76 184.51 L607.88 184.29 L608.00 184.00 L608.12 183.65 L608.24 183.24 L608.36 182.77 L608.48 182.23 L608.60 181.64 L608.72 180.99 L608.84 180.28 L608.96 179.51 L609.08 178.69 L609.20 177.82 L609.32 176.90 L609.44 175.92 L609.56 174.90 L609.69 173.83 L609.81 172.72 L609.93 171.56 L610.05 170.37 L610.17 169.14 L610.29 167.87 L610.41 166.56 L610.53 165.23 L610.65 163.86 L610.77 162.47 L610.89 161.06 L611.01 159.62 L611.13 158.17 L611.25 156.70 L611.37 155.22 L611.49 153.72 L611.61 152.22 L611.73 150.71 L611.85 149.20 L611.97 147.69 L612.09 146.18 L612.21 144.68 L612.33 143.18 L612.45 141.70 L612.57 140.23 L612.69 138.78 L612.81 137.34 L612.93 135.93 L613.05 134.54 L613.17 133.17 L613.29 131.84 L613.41 130.53 L613.53 129.26 L613.65 128.03 L613.77 126.84 L613.89 125.68 L614.01 124.57 L614.14 123.50 L614.26 122.48 L614.38 121.50 L614.50 120.58 L614.62 119.71 L614.74 118.89 L614.86 118.12 L614.98 117.41 L615.10 116.76 L615.22 116.17 L615.34 115.63 L615.46 115.16 L615.58 114.75 L615.70 114.40 L615.82 114.11 L615.94 113.89 L616.06 113.73 L616.18 113.63 L616.30 113.60 L616.42 113.62 L616.54 113.68 L616.66 113.78 L616.78 113.92 L616.90 114.10 L617.02 114.32 L617.14 114.58 L617.26 114.88 L617.38 115.21 L617.50 115.58 L617.62 115.98 L617.74 116.42 L617.86 116.89 L617.98 117.39 L618.11 117.92 L618.23 118.48 L618.35 119.07 L618.47 119.68 L618.59 120.31 L618.71 120.97 L618.83 121.65 L618.95 122.34 L619.07 123.05 L619.19 123.77 L619.31 124.51 L619.43 125.25 L619.55 126.00 L619.67 126.76 L619.79 127.52 L619.91 128.28 L620.03 129.04 L620.15 129.80 L620.27 130.55 L620.39 131.29 L620.51 132.03 L620.63 132.75 L620.75 133.46 L620.87 134.15 L620.99 134.83 L621.11 135.49 L621.23 136.12 L621.35 136.73 L621.47 137.32 L621.59 137.88 L621.72 138.41 L621.84 138.91 L621.96 139.38 L622.08 139.82 L622.20 140.22 L622.32 140.59 L622.44 140.92 L622.56 141.22 L622.68 141.48 L622.80 141.70 L622.92 141.88 L623.04 142.02 L623.16 142.12 L623.28 142.18 L623.40 142.20 L623.52 142.17 L623.64 142.09 L623.76 141.94 L623.88 141.74 L624.00 141.49 L624.12 141.18 L624.24 140.81 L624.36 140.38 L624.48 139.91 L624.60 139.38 L624.73 138.79 L624.85 138.15 L624.97 137.47 L625.09 136.73 L625.21 135.94 L625.33 135.10 L625.45 134.22 L625.57 133.29 L625.69 132.32 L625.81 131.30 L625.93 130.25 L626.05 129.15 L626.17 128.01 L626.29 126.84 L626.41 125.63 L626.53 124.39 L626.65 123.12 L626.77 121.81 L626.89 120.48 L627.01 119.12 L627.13 117.74 L627.26 116.34 L627.38 114.92 L627.50 113.48 L627.62 112.02 L627.74 110.55 L627.86 109.06 L627.98 107.57 L628.10 106.07 L628.22 104.56 L628.34 103.06 L628.46 101.54 L628.58 100.04 L628.70 98.53 L628.82 97.03 L628.94 95.54 L629.06 94.05 L629.18 92.58 L629.30 91.12 L629.42 89.68 L629.54 88.26 L629.67 86.86 L629.79 85.48 L629.91 84.12 L630.03 82.79 L630.15 81.48 L630.27 80.21 L630.39 78.97 L630.51 77.76 L630.63 76.59 L630.75 75.45 L630.87 74.35 L630.99 73.30 L631.11 72.28 L631.23 71.31 L631.35 70.38 L631.47 69.50 L631.59 68.66 L631.71 67.87 L631.83 67.13 L631.95 66.45 L632.07 65.81 L632.20 65.22 L632.32 64.69 L632.44 64.22 L632.56 63.79 L632.68 63.42 L632.80 63.11 L632.92 62.86 L633.04 62.66 L633.16 62.51 L633.28 62.43 L633.40 62.40 L633.52 62.58 L633.64 63.10 L633.76 63.97 L633.88 65.19 L634.00 66.75 L634.12 68.65 L634.25 70.87 L634.37 73.41 L634.49 76.27 L634.61 79.43 L634.73 82.87 L634.85 86.60 L634.97 90.59 L635.09 94.84 L635.21 99.32 L635.33 104.02 L635.45 108.92 L635.57 114.02 L635.69 119.28 L635.82 124.69 L635.94 130.24 L636.06 135.89 L636.18 141.64 L636.30 147.46 L636.42 153.34 L636.54 159.24 L636.66 165.16 L636.78 171.06 L636.90 176.94 L637.02 182.76 L637.14 188.51 L637.26 194.16 L637.38 199.71 L637.51 205.12 L637.63 210.38 L637.75 215.48 L637.87 220.38 L637.99 225.08 L638.11 229.56 L638.23 233.81 L638.35 237.80 L638.47 241.53 L638.59 244.97 L638.71 248.13 L638.83 250.99 L638.95 253.53 L639.08 255.75 L639.20 257.65 L639.32 259.21 L639.44 260.43 L639.56 261.30 L639.68 261.82 L639.80 262.00 L639.92 261.84 L640.04 261.37 L640.16 260.59 L640.28 259.49 L640.40 258.09 L640.52 256.39 L640.64 254.39 L640.77 252.10 L640.89 249.52 L641.01 246.66 L641.13 243.54 L641.25 240.15 L641.37 236.52 L641.49 232.64 L641.61 228.54 L641.73 224.22 L641.85 219.69 L641.97 214.98 L642.09 210.09 L642.21 205.04 L642.33 199.84 L642.46 194.51 L642.58 189.06 L642.70 183.52 L642.82 177.88 L642.94 172.18 L643.06 166.43 L643.18 160.65 L643.30 154.85 L643.42 149.05 L643.54 143.27 L643.66 137.52 L643.78 131.82 L643.90 126.18 L644.02 120.64 L644.14 115.19 L644.27 109.86 L644.39 104.66 L644.51 99.61 L644.63 94.72 L644.75 90.01 L644.87 85.48 L644.99 81.16 L645.11 77.06 L645.23 73.18 L645.35 69.55 L645.47 66.16 L645.59 63.04 L645.71 60.18 L645.83 57.60 L645.96 55.31 L646.08 53.31 L646.20 51.61 L646.32 50.21 L646.44 49.11 L646.56 48.33 L646.68 47.86 L646.80 47.70 L646.92 47.79 L647.04 48.07 L647.16 48.53 L647.28 49.17 L647.40 50.00 L647.52 51.00 L647.64 52.19 L647.76 53.54 L647.89 55.07 L648.01 56.77 L648.13 58.64 L648.25 60.66 L648.37 62.85 L648.49 65.18 L648.61 67.66 L648.73 70.29 L648.85 73.05 L648.97 75.94 L649.09 78.96 L649.21 82.09 L649.33 85.34 L649.45 88.69 L649.57 92.13 L649.69 95.67 L649.81 99.29 L649.94 102.98 L650.06 106.75 L650.18 110.56 L650.30 114.43 L650.42 118.35 L650.54 122.29 L650.66 126.26 L650.78 130.25 L650.90 134.25 L651.02 138.25 L651.14 142.24 L651.26 146.21 L651.38 150.15 L651.50 154.07 L651.62 157.94 L651.74 161.75 L651.86 165.52 L651.99 169.21 L652.11 172.83 L652.23 176.37 L652.35 179.81 L652.47 183.16 L652.59 186.41 L652.71 189.54 L652.83 192.56 L652.95 195.45 L653.07 198.21 L653.19 200.84 L653.31 203.32 L653.43 205.65 L653.55 207.84 L653.67 209.86 L653.79 211.73 L653.91 213.43 L654.04 214.96 L654.16 216.31 L654.28 217.50 L654.40 218.50 L654.52 219.33 L654.64 219.97 L654.76 220.43 L654.88 220.71 L655.00 220.80 L655.12 220.66 L655.24 220.25 L655.36 219.56 L655.48 218.61 L655.61 217.38 L655.73 215.88 L655.85 214.12 L655.97 212.10 L656.09 209.81 L656.21 207.28 L656.33 204.50 L656.45 201.47 L656.57 198.21 L656.70 194.71 L656.82 190.99 L656.94 187.06 L657.06 182.92 L657.18 178.57 L657.30 174.04 L657.42 169.32 L657.54 164.43 L657.66 159.37 L657.79 154.16 L657.91 148.80 L658.03 143.31 L658.15 137.69 L658.27 131.97 L658.39 126.14 L658.51 120.23 L658.63 114.23 L658.75 108.17 L658.88 102.06 L659.00 95.90 L659.12 89.71 L659.24 83.51 L659.36 77.29 L659.48 71.09 L659.60 64.90 L659.72 58.74 L659.85 52.63 L659.97 46.57 L660.09 40.57 L660.21 34.66 L660.33 28.83 L660.45 23.11 L660.57 17.49 L660.69 12.00 L660.81 6.64 L660.94 1.43 L661.06 -3.63 L661.18 -8.52 L661.30 -13.24 L661.42 -17.77 L661.54 -22.12 L661.66 -26.26 L661.78 -30.19 L661.90 -33.91 L662.03 -37.41 L662.15 -40.67 L662.27 -43.70 L662.39 -46.48 L662.51 -49.01 L662.63 -51.30 L662.75 -53.32 L662.87 -55.08 L662.99 -56.58 L663.12 -57.81 L663.24 -58.76 L663.36 -59.45 L663.48 -59.86 L663.60 -60.00 L663.72 -59.58 L663.84 -58.33 L663.96 -56.25 L664.08 -53.36 L664.20 -49.65 L664.33 -45.16 L664.45 -39.89 L664.57 -33.87 L664.69 -27.14 L664.81 -19.70 L664.93 -11.61 L665.05 -2.89 L665.17 6.43 L665.29 16.29 L665.41 26.66 L665.53 37.50 L665.65 48.75 L665.77 60.38 L665.90 72.32 L666.02 84.53 L666.14 96.96 L666.26 109.55 L666.38 122.25 L666.50 135.00 L666.62 147.75 L666.74 160.45 L666.86 173.04 L666.98 185.47 L667.10 197.68 L667.23 209.62 L667.35 221.25 L667.47 232.50 L667.59 243.34 L667.71 253.71 L667.83 263.57 L667.95 272.89 L668.07 281.61 L668.19 289.70 L668.31 297.14 L668.43 303.87 L668.55 309.89 L668.67 315.16 L668.80 319.65 L668.92 323.36 L669.04 326.25 L669.16 328.33 L669.28 329.58 L669.40 330.00 L669.52 329.30 L669.64 327.22 L669.76 323.75 L669.88 318.94 L670.00 312.80 L670.12 305.37 L670.24 296.72 L670.36 286.88 L670.48 275.93 L670.61 263.94 L670.73 250.98 L670.85 237.13 L670.97 222.50 L671.09 207.17 L671.21 191.24 L671.33 174.82 L671.45 158.01 L671.57 140.92 L671.69 123.66 L671.81 106.34 L671.93 89.08 L672.05 71.99 L672.17 55.18 L672.29 38.76 L672.41 22.83 L672.53 7.50 L672.65 -7.13 L672.77 -20.98 L672.89 -33.94 L673.02 -45.93 L673.14 -56.88 L673.26 -66.72 L673.38 -75.37 L673.50 -82.80 L673.62 -88.94 L673.74 -93.75 L673.86 -97.22 L673.98 -99.30 L674.10 -100.00 L674.22 -99.61 L674.34 -98.44 L674.47 -96.48 L674.59 -93.76 L674.71 -90.28 L674.83 -86.04 L674.95 -81.07 L675.07 -75.38 L675.20 -68.98 L675.32 -61.90 L675.44 -54.16 L675.56 -45.79 L675.68 -36.82 L675.81 -27.27 L675.93 -17.17 L676.05 -6.56 L676.17 4.53 L676.29 16.06 L676.41 28.00 L676.54 40.30 L676.66 52.93 L676.78 65.84 L676.90 78.99 L677.02 92.34 L677.15 105.84 L677.27 119.46 L677.39 133.15 L677.51 146.85 L677.63 160.54 L677.75 174.16 L677.88 187.66 L678.00 201.01 L678.12 214.16 L678.24 227.07 L678.36 239.70 L678.49 252.00 L678.61 263.94 L678.73 275.47 L678.85 286.56 L678.97 297.17 L679.09 307.27 L679.22 316.82 L679.34 325.79 L679.46 334.16 L679.58 341.90 L679.70 348.98 L679.83 355.38 L679.95 361.07 L680.07 366.04 L680.19 370.28 L680.31 373.76 L680.43 376.48 L680.56 378.44 L680.68 379.61 L680.80 380.00 L680.92 379.54 L681.04 378.18 L681.16 375.90 L681.29 372.73 L681.41 368.67 L681.53 363.73 L681.65 357.93 L681.77 351.28 L681.89 343.81 L682.01 335.55 L682.14 326.51 L682.26 316.73 L682.38 306.24 L682.50 295.06 L682.62 283.24 L682.74 270.81 L682.86 257.81 L682.99 244.29 L683.11 230.28 L683.23 215.83 L683.35 200.98 L683.47 185.78 L683.59 170.28 L683.71 154.53 L683.84 138.58 L683.96 122.47 L684.08 106.26 L684.20 90.00 L684.32 73.74 L684.44 57.53 L684.56 41.42 L684.69 25.47 L684.81 9.72 L684.93 -5.78 L685.05 -20.98 L685.17 -35.83 L685.29 -50.28 L685.41 -64.29 L685.54 -77.81 L685.66 -90.81 L685.78 -103.24 L685.90 -115.06 L686.02 -126.24 L686.14 -136.73 L686.26 -146.51 L686.39 -155.55 L686.51 -163.81 L686.63 -171.28 L686.75 -177.93 L686.87 -183.73 L686.99 -188.67 L687.11 -192.73 L687.24 -195.90 L687.36 -198.18 L687.48 -199.54 L687.60 -200.00 L687.72 -199.14 L687.84 -196.55 L687.96 -192.26 L688.08 -186.32 L688.21 -178.77 L688.33 -169.68 L688.45 -159.14 L688.57 -147.23 L688.69 -134.08 L688.81 -119.79 L688.93 -104.50 L689.05 -88.34 L689.18 -71.47 L689.30 -54.03 L689.42 -36.18 L689.54 -18.09 L689.66 0.09 L689.78 18.18 L689.90 36.03 L690.02 53.47 L690.15 70.34 L690.27 86.50 L690.39 101.79 L690.51 116.08 L690.63 129.23 L690.75 141.14 L690.87 151.68 L690.99 160.77 L691.12 168.32 L691.24 174.26 L691.36 178.55 L691.48 181.14 L691.60 182.00 L691.72 180.24 L691.85 175.00 L691.97 166.34 L692.09 154.39 L692.22 139.34 L692.34 121.39 L692.46 100.81 L692.58 77.90 L692.71 53.00 L692.83 26.46 L692.95 -1.32 L693.08 -29.95 L693.20 -59.00 L693.32 -88.05 L693.45 -116.68 L693.57 -144.46 L693.69 -171.00 L693.82 -195.90 L693.94 -218.81 L694.06 -239.39 L694.18 -257.34 L694.31 -272.39 L694.43 -284.34 L694.55 -293.00 L694.68 -298.24 L694.80 -300.00 L694.92 -298.91 L695.04 -295.64 L695.16 -290.22 L695.29 -282.67 L695.41 -273.04 L695.53 -261.38 L695.65 -247.75 L695.77 -232.23 L695.89 -214.91 L696.01 -195.89 L696.14 -175.27 L696.26 -153.16 L696.38 -129.69 L696.50 -105.00 L696.62 -79.21 L696.74 -52.48 L696.86 -24.95 L696.99 3.22 L697.11 31.87 L697.23 60.86 L697.35 90.00 L697.47 119.14 L697.59 148.13 L697.71 176.78 L697.84 204.95 L697.96 232.48 L698.08 259.21 L698.20 285.00 L698.32 309.69 L698.44 333.16 L698.56 355.27 L698.69 375.89 L698.81 394.91 L698.93 412.23 L699.05 427.75 L699.17 441.38 L699.29 453.04 L699.41 462.67 L699.54 470.22 L699.66 475.64 L699.78 478.91 L699.90 480.00 L700.02 478.91 L700.14 475.63 L700.26 470.18 L700.39 462.59 L700.51 452.89 L700.63 441.12 L700.75 427.33 L700.87 411.60 L700.99 393.98 L701.11 374.55 L701.23 353.41 L701.36 330.64 L701.48 306.36 L701.60 280.66 L701.72 253.66 L701.84 225.49 L701.96 196.26 L702.08 166.11 L702.20 135.18 L702.33 103.59 L702.45 71.50 L702.57 39.05 L702.69 6.37 L702.81 -26.37 L702.93 -59.05 L703.05 -91.50 L703.17 -123.59 L703.30 -155.18 L703.42 -186.11 L703.54 -216.26 L703.66 -245.49 L703.78 -273.66 L703.90 -300.66 L704.02 -326.36 L704.14 -350.64 L704.27 -373.41 L704.39 -394.55 L704.51 -413.98 L704.63 -431.60 L704.75 -447.33 L704.87 -461.12 L704.99 -472.89 L705.11 -482.59 L705.24 -490.18 L705.36 -495.63 L705.48 -498.91 L705.60 -500.00 L705.72 -498.70 L705.85 -494.81 L705.97 -488.34 L706.09 -479.34 L706.21 -467.84 L706.34 -453.91 L706.46 -437.62 L706.58 -419.04 L706.70 -398.28 L706.83 -375.43 L706.95 -350.62 L707.07 -323.98 L707.20 -295.63 L707.32 -265.73 L707.44 -234.42 L707.56 -201.86 L707.69 -168.23 L707.81 -133.68 L707.93 -98.41 L708.05 -62.58 L708.18 -26.38 L708.30 10.00 L708.42 46.38 L708.55 82.58 L708.67 118.41 L708.79 153.68 L708.91 188.23 L709.04 221.86 L709.16 254.42 L709.28 285.73 L709.40 315.63 L709.53 343.98 L709.65 370.62 L709.77 395.43 L709.90 418.28 L710.02 439.04 L710.14 457.62 L710.26 473.91 L710.39 487.84 L710.51 499.34 L710.63 508.34 L710.75 514.81 L710.88 518.70 L711.00 520.00 L711.12 511.86 L711.25 487.93 L711.37 449.58 L711.49 399.06 L711.62 339.29 L711.74 273.75 L711.86 206.25 L711.98 140.71 L712.11 80.94 L712.23 30.42 L712.35 -7.93 L712.48 -31.86 L712.60 -40.00" stroke="#ff0000" stroke-width="1.8" stroke-dasharray="8.3 4" fill="none" stroke-linejoin="round"/><path d="M510.30 128.20 L510.52 128.17 L510.78 128.13 L511.06 128.09 L511.38 128.05 L511.72 127.99 L512.09 127.94 L512.48 127.88 L512.88 127.82 L513.31 127.76 L513.75 127.70 L514.20 127.63 L514.66 127.57 L515.13 127.50 L515.60 127.44 L516.08 127.37 L516.56 127.31 L517.03 127.25 L517.51 127.19 L517.97 127.14 L518.43 127.09 L518.87 127.04 L519.30 127.00 L519.69 126.96 L520.07 126.93 L520.46 126.89 L520.84 126.86 L521.22 126.82 L521.60 126.79 L521.99 126.75 L522.37 126.72 L522.75 126.69 L523.14 126.66 L523.53 126.63 L523.92 126.60 L524.31 126.58 L524.71 126.55 L525.11 126.53 L525.51 126.51 L525.91 126.50 L526.32 126.49 L526.74 126.48 L527.16 126.48 L527.59 126.48 L528.02 126.48 L528.46 126.49 L528.90 126.50 L529.27 126.51 L529.65 126.54 L530.04 126.56 L530.42 126.59 L530.82 126.62 L531.21 126.66 L531.61 126.70 L532.02 126.75 L532.42 126.79 L532.83 126.84 L533.25 126.89 L533.66 126.95 L534.08 127.00 L534.50 127.05 L534.92 127.11 L535.34 127.16 L535.76 127.22 L536.18 127.27 L536.61 127.32 L537.03 127.37 L537.45 127.42 L537.88 127.47 L538.30 127.51 L538.72 127.55 L539.14 127.59 L539.56 127.63 L539.97 127.66 L540.39 127.68 L540.80 127.70 L541.21 127.72 L541.63 127.73 L542.04 127.73 L542.46 127.74 L542.88 127.74 L543.30 127.73 L543.72 127.73 L544.15 127.72 L544.57 127.71 L544.99 127.70 L545.42 127.69 L545.84 127.67 L546.26 127.66 L546.68 127.64 L547.10 127.62 L547.52 127.61 L547.94 127.59 L548.35 127.57 L548.77 127.56 L549.18 127.54 L549.58 127.53 L549.99 127.52 L550.39 127.51 L550.78 127.50 L551.18 127.49 L551.56 127.49 L551.95 127.49 L552.33 127.49 L552.70 127.50 L553.17 127.51 L553.63 127.52 L554.08 127.53 L554.54 127.55 L554.99 127.56 L555.43 127.58 L555.87 127.59 L556.31 127.61 L556.74 127.63 L557.17 127.65 L557.59 127.67 L558.01 127.70 L558.42 127.73 L558.83 127.76 L559.24 127.80 L559.64 127.83 L560.03 127.87 L560.42 127.92 L560.81 127.97 L561.19 128.02 L561.56 128.07 L561.93 128.13 L562.30 128.20 L562.78 128.30 L563.26 128.41 L563.72 128.53 L564.17 128.66 L564.61 128.80 L565.03 128.94 L565.46 129.09 L565.87 129.25 L566.28 129.40 L566.68 129.56 L567.08 129.72 L567.47 129.88 L567.86 130.03 L568.24 130.18 L568.63 130.33 L569.02 130.47 L569.40 130.60 L569.83 130.75 L570.26 130.91 L570.67 131.08 L571.08 131.26 L571.48 131.43 L571.88 131.61 L572.27 131.78 L572.66 131.93 L573.05 132.08 L573.44 132.21 L573.83 132.32 L574.22 132.41 L574.61 132.47 L575.00 132.50 L575.40 132.50 L575.80 132.47 L576.20 132.41 L576.60 132.34 L577.00 132.24 L577.40 132.12 L577.80 131.98 L578.21 131.82 L578.61 131.65 L579.01 131.46 L579.41 131.25 L579.81 131.03 L580.21 130.79 L580.61 130.54 L581.00 130.27 L581.40 130.00 L581.83 129.67 L582.26 129.29 L582.70 128.88 L583.15 128.43 L583.59 127.95 L584.03 127.46 L584.47 126.97 L584.90 126.48 L585.33 126.00 L585.75 125.54 L586.16 125.11 L586.55 124.73 L586.93 124.38 L587.30 124.10 L587.78 123.78 L588.21 123.54 L588.62 123.35 L589.00 123.21 L589.38 123.11 L589.75 123.05 L590.12 123.00 L590.52 122.97 L590.94 122.94 L591.40 122.90 L591.78 122.88 L592.19 122.89 L592.62 122.92 L593.07 122.96 L593.52 123.02 L593.98 123.08 L594.44 123.14 L594.90 123.20 L595.34 123.24 L595.77 123.27 L596.17 123.28 L596.55 123.25 L596.90 123.20 L597.50 123.00 L598.05 122.69 L598.56 122.32 L599.01 121.92 L599.41 121.54 L599.74 121.22 L600.00 121.00 L600.15 120.98 L600.31 120.93 L600.47 120.85 L600.62 120.74 L600.77 120.60 L600.93 120.44 L601.09 120.26 L601.24 120.07 L601.39 119.86 L601.55 119.65 L601.71 119.44 L601.86 119.23 L602.01 119.04 L602.17 118.86 L602.33 118.70 L602.48 118.56 L602.63 118.45 L602.79 118.37 L602.95 118.32 L603.10 118.30 L603.25 118.31 L603.40 118.34 L603.55 118.40 L603.70 118.47 L603.85 118.57 L604.00 118.69 L604.16 118.83 L604.31 118.99 L604.46 119.17 L604.61 119.37 L604.76 119.59 L604.91 119.83 L605.06 120.09 L605.21 120.37 L605.36 120.66 L605.51 120.97 L605.66 121.30 L605.81 121.64 L605.96 121.99 L606.11 122.36 L606.27 122.75 L606.42 123.14 L606.57 123.55 L606.72 123.96 L606.87 124.39 L607.02 124.82 L607.17 125.26 L607.32 125.71 L607.47 126.17 L607.62 126.62 L607.77 127.09 L607.92 127.55 L608.07 128.02 L608.23 128.48 L608.38 128.95 L608.53 129.41 L608.68 129.88 L608.83 130.33 L608.98 130.79 L609.13 131.24 L609.28 131.68 L609.43 132.11 L609.58 132.54 L609.73 132.95 L609.88 133.36 L610.03 133.75 L610.19 134.14 L610.34 134.51 L610.49 134.86 L610.64 135.20 L610.79 135.53 L610.94 135.84 L611.09 136.13 L611.24 136.41 L611.39 136.67 L611.54 136.91 L611.69 137.13 L611.84 137.33 L611.99 137.51 L612.14 137.67 L612.30 137.81 L612.45 137.93 L612.60 138.03 L612.75 138.10 L612.90 138.16 L613.05 138.19 L613.20 138.20 L613.35 138.19 L613.50 138.16 L613.65 138.10 L613.81 138.03 L613.96 137.93 L614.11 137.82 L614.26 137.68 L614.41 137.52 L614.56 137.35 L614.71 137.15 L614.86 136.93 L615.02 136.70 L615.17 136.44 L615.32 136.17 L615.47 135.88 L615.62 135.57 L615.77 135.25 L615.92 134.91 L616.08 134.55 L616.23 134.18 L616.38 133.79 L616.53 133.40 L616.68 132.99 L616.83 132.56 L616.98 132.13 L617.14 131.68 L617.29 131.23 L617.44 130.77 L617.59 130.30 L617.74 129.82 L617.89 129.34 L618.04 128.85 L618.19 128.35 L618.35 127.86 L618.50 127.35 L618.65 126.85 L618.80 126.35 L618.95 125.85 L619.10 125.35 L619.25 124.84 L619.41 124.35 L619.56 123.85 L619.71 123.36 L619.86 122.88 L620.01 122.40 L620.16 121.93 L620.31 121.47 L620.46 121.02 L620.62 120.57 L620.77 120.14 L620.92 119.71 L621.07 119.30 L621.22 118.91 L621.37 118.52 L621.52 118.15 L621.68 117.79 L621.83 117.45 L621.98 117.13 L622.13 116.82 L622.28 116.53 L622.43 116.26 L622.58 116.00 L622.74 115.77 L622.89 115.55 L623.04 115.35 L623.19 115.18 L623.34 115.02 L623.49 114.88 L623.64 114.77 L623.79 114.67 L623.95 114.60 L624.10 114.54 L624.25 114.51 L624.40 114.50 L624.55 114.51 L624.70 114.56 L624.85 114.63 L625.00 114.73 L625.15 114.87 L625.31 115.03 L625.46 115.21 L625.61 115.43 L625.76 115.67 L625.91 115.94 L626.06 116.23 L626.21 116.55 L626.36 116.89 L626.51 117.25 L626.66 117.63 L626.81 118.03 L626.96 118.46 L627.12 118.89 L627.27 119.35 L627.42 119.82 L627.57 120.30 L627.72 120.80 L627.87 121.30 L628.02 121.82 L628.17 122.34 L628.32 122.87 L628.47 123.40 L628.62 123.93 L628.78 124.47 L628.93 125.00 L629.08 125.53 L629.23 126.06 L629.38 126.58 L629.53 127.10 L629.68 127.60 L629.83 128.10 L629.98 128.58 L630.13 129.05 L630.28 129.51 L630.44 129.94 L630.59 130.37 L630.74 130.77 L630.89 131.15 L631.04 131.51 L631.19 131.85 L631.34 132.17 L631.49 132.46 L631.64 132.73 L631.79 132.97 L631.94 133.19 L632.09 133.37 L632.25 133.53 L632.40 133.67 L632.55 133.77 L632.70 133.84 L632.85 133.89 L633.00 133.90 L633.15 133.87 L633.31 133.77 L633.46 133.60 L633.61 133.37 L633.77 133.07 L633.92 132.71 L634.08 132.29 L634.23 131.82 L634.38 131.28 L634.54 130.70 L634.69 130.07 L634.84 129.39 L635.00 128.67 L635.15 127.92 L635.30 127.13 L635.46 126.32 L635.61 125.48 L635.77 124.63 L635.92 123.76 L636.07 122.89 L636.23 122.01 L636.38 121.14 L636.53 120.27 L636.69 119.42 L636.84 118.58 L637.00 117.77 L637.15 116.98 L637.30 116.23 L637.46 115.51 L637.61 114.83 L637.76 114.20 L637.92 113.62 L638.07 113.08 L638.22 112.61 L638.38 112.19 L638.53 111.83 L638.69 111.53 L638.84 111.30 L638.99 111.13 L639.15 111.03 L639.30 111.00 L639.45 111.03 L639.60 111.10 L639.75 111.23 L639.90 111.40 L640.05 111.63 L640.20 111.90 L640.35 112.22 L640.50 112.59 L640.65 113.00 L640.80 113.45 L640.95 113.95 L641.10 114.48 L641.25 115.05 L641.40 115.66 L641.55 116.30 L641.70 116.96 L641.85 117.66 L642.00 118.38 L642.15 119.12 L642.30 119.88 L642.45 120.65 L642.60 121.44 L642.75 122.24 L642.90 123.04 L643.05 123.85 L643.20 124.66 L643.35 125.46 L643.50 126.26 L643.65 127.05 L643.80 127.82 L643.95 128.58 L644.10 129.32 L644.25 130.04 L644.40 130.74 L644.55 131.40 L644.70 132.04 L644.85 132.65 L645.00 133.22 L645.15 133.75 L645.30 134.25 L645.45 134.70 L645.60 135.11 L645.75 135.48 L645.90 135.80 L646.05 136.07 L646.20 136.30 L646.35 136.47 L646.50 136.60 L646.65 136.67 L646.80 136.70 L646.95 136.68 L647.10 136.62 L647.25 136.52 L647.40 136.39 L647.55 136.21 L647.70 136.00 L647.85 135.76 L648.00 135.47 L648.15 135.15 L648.30 134.80 L648.45 134.41 L648.60 134.00 L648.75 133.55 L648.90 133.08 L649.05 132.57 L649.20 132.05 L649.35 131.50 L649.50 130.92 L649.65 130.33 L649.80 129.72 L649.95 129.10 L650.10 128.46 L650.25 127.81 L650.40 127.16 L650.55 126.49 L650.70 125.82 L650.85 125.15 L651.00 124.48 L651.15 123.81 L651.30 123.14 L651.45 122.49 L651.60 121.84 L651.75 121.20 L651.90 120.58 L652.05 119.97 L652.20 119.38 L652.35 118.80 L652.50 118.25 L652.65 117.73 L652.80 117.22 L652.95 116.75 L653.10 116.30 L653.25 115.89 L653.40 115.50 L653.55 115.15 L653.70 114.83 L653.85 114.54 L654.00 114.30 L654.15 114.09 L654.30 113.91 L654.45 113.78 L654.60 113.68 L654.75 113.62 L654.90 113.60 L655.05 113.62 L655.21 113.68 L655.36 113.77 L655.51 113.90 L655.67 114.07 L655.82 114.27 L655.97 114.51 L656.13 114.78 L656.28 115.08 L656.43 115.41 L656.59 115.78 L656.74 116.16 L656.89 116.58 L657.05 117.02 L657.20 117.47 L657.35 117.95 L657.51 118.45 L657.66 118.96 L657.81 119.48 L657.97 120.00 L658.12 120.54 L658.27 121.08 L658.43 121.62 L658.58 122.16 L658.73 122.70 L658.89 123.22 L659.04 123.74 L659.19 124.25 L659.35 124.75 L659.50 125.22 L659.65 125.68 L659.81 126.12 L659.96 126.54 L660.11 126.92 L660.27 127.29 L660.42 127.62 L660.57 127.92 L660.73 128.19 L660.88 128.43 L661.03 128.63 L661.19 128.80 L661.34 128.93 L661.49 129.02 L661.65 129.08 L661.80 129.10 L661.95 129.07 L662.10 128.98 L662.26 128.84 L662.41 128.64 L662.56 128.38 L662.71 128.07 L662.87 127.70 L663.02 127.29 L663.17 126.82 L663.32 126.31 L663.47 125.75 L663.63 125.15 L663.78 124.51 L663.93 123.83 L664.08 123.12 L664.23 122.38 L664.39 121.61 L664.54 120.82 L664.69 120.01 L664.84 119.18 L665.00 118.35 L665.15 117.50 L665.30 116.65 L665.45 115.80 L665.60 114.95 L665.76 114.12 L665.91 113.29 L666.06 112.48 L666.21 111.69 L666.37 110.92 L666.52 110.18 L666.67 109.47 L666.82 108.79 L666.97 108.15 L667.13 107.55 L667.28 106.99 L667.43 106.48 L667.58 106.01 L667.73 105.60 L667.89 105.23 L668.04 104.92 L668.19 104.66 L668.34 104.46 L668.50 104.32 L668.65 104.23 L668.80 104.20 L668.95 104.26 L669.10 104.44 L669.25 104.73 L669.40 105.15 L669.55 105.67 L669.70 106.30 L669.85 107.04 L670.00 107.87 L670.15 108.80 L670.30 109.81 L670.45 110.89 L670.60 112.05 L670.75 113.26 L670.90 114.53 L671.05 115.84 L671.20 117.17 L671.35 118.53 L671.50 119.90 L671.65 121.27 L671.80 122.63 L671.95 123.96 L672.10 125.27 L672.25 126.54 L672.40 127.75 L672.55 128.91 L672.70 129.99 L672.85 131.00 L673.00 131.93 L673.15 132.76 L673.30 133.50 L673.45 134.13 L673.60 134.65 L673.75 135.07 L673.90 135.36 L674.05 135.54 L674.20 135.60 L674.35 135.57 L674.50 135.50 L674.66 135.37 L674.81 135.19 L674.96 134.96 L675.11 134.69 L675.27 134.37 L675.42 134.00 L675.57 133.59 L675.72 133.13 L675.87 132.64 L676.03 132.11 L676.18 131.54 L676.33 130.94 L676.48 130.32 L676.63 129.66 L676.79 128.98 L676.94 128.28 L677.09 127.57 L677.24 126.84 L677.40 126.10 L677.55 125.35 L677.70 124.60 L677.85 123.85 L678.00 123.10 L678.16 122.36 L678.31 121.63 L678.46 120.92 L678.61 120.22 L678.77 119.54 L678.92 118.88 L679.07 118.26 L679.22 117.66 L679.37 117.09 L679.53 116.56 L679.68 116.07 L679.83 115.61 L679.98 115.20 L680.13 114.83 L680.29 114.51 L680.44 114.24 L680.59 114.01 L680.74 113.83 L680.90 113.70 L681.05 113.63 L681.20 113.60 L681.36 113.64 L681.51 113.75 L681.67 113.94 L681.82 114.21 L681.98 114.54 L682.13 114.93 L682.29 115.39 L682.44 115.90 L682.60 116.45 L682.76 117.04 L682.91 117.67 L683.07 118.31 L683.22 118.97 L683.38 119.63 L683.53 120.29 L683.69 120.93 L683.84 121.56 L684.00 122.15 L684.16 122.70 L684.31 123.21 L684.47 123.67 L684.62 124.06 L684.78 124.39 L684.93 124.66 L685.09 124.85 L685.24 124.96 L685.40 125.00 L685.55 124.95 L685.70 124.81 L685.85 124.56 L686.01 124.23 L686.16 123.80 L686.31 123.28 L686.46 122.68 L686.61 121.99 L686.76 121.23 L686.91 120.39 L687.06 119.49 L687.22 118.52 L687.37 117.50 L687.52 116.43 L687.67 115.32 L687.82 114.17 L687.97 113.00 L688.12 111.81 L688.27 110.60 L688.43 109.40 L688.58 108.19 L688.73 107.00 L688.88 105.83 L689.03 104.68 L689.18 103.57 L689.33 102.50 L689.48 101.48 L689.64 100.51 L689.79 99.61 L689.94 98.77 L690.09 98.01 L690.24 97.32 L690.39 96.72 L690.54 96.20 L690.69 95.77 L690.85 95.44 L691.00 95.19 L691.15 95.05 L691.30 95.00 L691.45 95.10 L691.60 95.41 L691.76 95.92 L691.91 96.62 L692.06 97.50 L692.21 98.56 L692.36 99.77 L692.51 101.12 L692.67 102.60 L692.82 104.18 L692.97 105.84 L693.12 107.56 L693.27 109.32 L693.43 111.08 L693.58 112.84 L693.73 114.56 L693.88 116.22 L694.03 117.80 L694.19 119.28 L694.34 120.63 L694.49 121.84 L694.64 122.90 L694.79 123.78 L694.94 124.48 L695.10 124.99 L695.25 125.30 L695.40 125.40 L695.53 124.82 L695.70 124.05 L695.89 123.13 L696.12 122.10 L696.36 121.00 L696.60 119.88 L696.85 118.78 L697.08 117.74 L697.30 116.80 L697.50 116.00 L697.74 115.04 L697.94 114.19 L698.13 113.43 L698.31 112.76 L698.51 112.17 L698.73 111.65 L699.00 111.20 L699.17 111.01 L699.35 110.89 L699.54 110.82 L699.74 110.79 L699.95 110.78 L700.17 110.79 L700.38 110.80 L700.60 110.79 L700.82 110.76 L701.03 110.69 L701.23 110.56 L701.42 110.37 L701.60 110.10 L701.84 109.64 L702.05 109.14 L702.25 108.59 L702.44 107.97 L702.63 107.25 L702.82 106.41 L703.02 105.44 L703.25 104.31 L703.50 103.00 L703.68 101.98 L703.87 100.77 L704.07 99.39 L704.28 97.90 L704.49 96.32 L704.71 94.70 L704.94 93.07 L705.16 91.48 L705.38 89.95 L705.60 88.55 L705.81 87.29 L706.02 86.22 L706.22 85.37 L706.40 84.80 L706.64 84.43 L706.88 84.48 L707.10 84.87 L707.31 85.53 L707.52 86.38 L707.72 87.36 L707.92 88.38 L708.11 89.38 L708.31 90.27 L708.50 91.00 L708.74 91.87 L708.96 92.89 L709.18 93.96 L709.39 95.01 L709.61 95.93 L709.83 96.65 L710.06 97.07 L710.30 97.10 L710.48 96.87 L710.66 96.47 L710.84 95.92 L711.03 95.23 L711.22 94.43 L711.41 93.51 L711.61 92.52 L711.82 91.45 L712.03 90.33 L712.26 89.17 L712.50 88.00 L712.68 87.12 L712.86 86.11 L713.06 84.99 L713.26 83.79 L713.47 82.53 L713.69 81.23 L713.91 79.91 L714.13 78.61 L714.34 77.33 L714.56 76.11 L714.77 74.97 L714.98 73.92 L715.17 73.00 L715.36 72.22 L715.54 71.62 L715.70 71.20 L715.99 70.91 L716.26 71.21 L716.49 71.96 L716.71 73.03 L716.91 74.30 L717.10 75.64 L717.30 76.92 L717.50 78.00 L717.72 79.15 L717.93 80.42 L718.13 81.73 L718.33 83.03 L718.54 84.27 L718.76 85.38 L719.00 86.30 L719.18 86.83 L719.37 87.28 L719.57 87.67 L719.77 88.01 L719.98 88.29 L720.20 88.54 L720.41 88.76 L720.64 88.95 L720.87 89.13 L721.10 89.30 L721.29 89.40 L721.49 89.45 L721.70 89.45 L721.91 89.42 L722.13 89.37 L722.35 89.32 L722.57 89.27 L722.79 89.23 L722.99 89.23 L723.19 89.26 L723.38 89.34 L723.55 89.48 L723.70 89.70 L724.02 90.49 L724.27 91.52 L724.46 92.79 L724.63 94.28 L724.80 96.00 L725.05 99.43 L725.26 103.49 L725.50 108.00 L725.69 110.94 L725.89 114.11 L726.11 117.41 L726.31 120.74 L726.50 124.00 L726.74 129.48 L726.95 134.96 L727.20 140.00 L727.40 142.99 L727.62 146.10 L727.85 148.90 L728.08 151.01 L728.30 152.00 L728.50 151.53 L728.70 149.88 L728.90 147.56 L729.10 145.09 L729.30 143.00 L729.51 140.84 L729.71 138.26 L729.92 135.93 L730.15 134.52 L730.40 134.70 L730.58 135.89 L730.77 137.85 L730.97 140.38 L731.18 143.30 L731.39 146.41 L731.60 149.52 L731.80 152.45 L732.00 155.00 L732.22 157.89 L732.43 161.10 L732.64 164.33 L732.85 167.29 L733.06 169.67 L733.28 171.17 L733.50 171.50 L733.70 170.60 L733.91 168.68 L734.12 166.00 L734.34 162.81 L734.55 159.36 L734.77 155.91 L734.99 152.70 L735.20 150.00 L735.41 147.43 L735.63 144.61 L735.84 141.73 L736.06 138.99 L736.27 136.61 L736.48 134.78 L736.69 133.71 L736.90 133.60 L737.11 134.65 L737.31 136.76 L737.51 139.66 L737.71 143.09 L737.91 146.81 L738.11 150.53 L738.31 154.02 L738.50 157.00 L738.72 160.33 L738.94 164.03 L739.16 167.77 L739.37 171.17 L739.58 173.90 L739.79 175.59 L740.00 175.90 L740.24 174.10 L740.47 170.33 L740.71 165.32 L740.94 159.78 L741.17 154.44 L741.40 150.00 L741.64 146.08 L741.88 142.01 L742.12 138.13 L742.36 134.78 L742.58 132.29 L742.80 131.00 L743.04 131.41 L743.27 133.55 L743.48 136.69 L743.69 140.08 L743.90 143.00 L744.10 145.55 L744.30 148.24 L744.50 150.88 L744.70 153.29 L744.90 155.30 L745.12 156.84 L745.35 158.03 L745.58 158.96 L745.80 159.75 L746.00 160.50 L746.26 161.26 L746.47 161.71 L746.70 162.90 L746.94 165.33 L747.19 168.50 L747.50 172.00 L747.69 173.53 L747.89 174.82 L748.11 176.19 L748.33 177.97 L748.57 180.46 L748.80 184.00 L749.00 188.07 L749.21 192.99 L749.43 198.52 L749.65 204.42 L749.87 210.46 L750.08 216.40 L750.30 222.00 L750.52 227.78 L750.75 234.10 L750.98 240.55 L751.21 246.69 L751.42 252.10 L751.62 256.35 L751.80 259.00 L752.05 259.22 L752.24 255.51 L752.42 250.29 L752.60 246.00 L752.87 241.30 L753.15 236.81 L753.40 234.90 L753.61 237.11 L753.80 241.89 L754.00 247.00 L754.25 252.34 L754.51 258.00 L754.70 262.00" stroke="#0000ff" stroke-width="1.9" fill="none" stroke-linejoin="round"/><rect x="712.25" y="-4.82" width="3.8" height="3.8" fill="#000"/><rect x="712.25" y="10.35" width="3.8" height="3.8" fill="#000"/><rect x="712.25" y="25.52" width="3.8" height="3.8" fill="#000"/><rect x="712.25" y="40.69" width="3.8" height="3.8" fill="#000"/><rect x="712.25" y="55.86" width="3.8" height="3.8" fill="#000"/><rect x="712.25" y="71.03" width="3.8" height="3.8" fill="#000"/><rect x="712.25" y="86.20" width="3.8" height="3.8" fill="#000"/><rect x="712.25" y="101.37" width="3.8" height="3.8" fill="#000"/><rect x="712.25" y="116.54" width="3.8" height="3.8" fill="#000"/><rect x="712.25" y="131.71" width="3.8" height="3.8" fill="#000"/><rect x="712.25" y="146.88" width="3.8" height="3.8" fill="#000"/><rect x="712.25" y="162.05" width="3.8" height="3.8" fill="#000"/><rect x="712.25" y="177.22" width="3.8" height="3.8" fill="#000"/><rect x="712.25" y="192.39" width="3.8" height="3.8" fill="#000"/><rect x="712.25" y="207.56" width="3.8" height="3.8" fill="#000"/><rect x="712.25" y="222.73" width="3.8" height="3.8" fill="#000"/><rect x="712.25" y="237.90" width="3.8" height="3.8" fill="#000"/><rect x="712.25" y="253.07" width="3.8" height="3.8" fill="#000"/></g>
<path d="M105.50 258.00L105.50 248.00M105.50 4.00L105.50 14.00M245.50 258.00L245.50 248.00M245.50 4.00L245.50 14.00M385.50 258.00L385.50 248.00M385.50 4.00L385.50 14.00M175.50 258.00L175.50 253.00M175.50 4.00L175.50 9.00M315.50 258.00L315.50 253.00M315.50 4.00L315.50 9.00M455.50 258.00L455.50 253.00M455.50 4.00L455.50 9.00M63.90 65.53L73.90 65.53M469.50 65.53L459.50 65.53M63.90 142.50L73.90 142.50M469.50 142.50L459.50 142.50M63.90 219.47L73.90 219.47M469.50 219.47L459.50 219.47M63.90 27.05L68.90 27.05M469.50 27.05L464.50 27.05M63.90 104.02L68.90 104.02M469.50 104.02L464.50 104.02M63.90 180.99L68.90 180.99M469.50 180.99L464.50 180.99M510.20 258.00L510.20 248.00M510.20 4.00L510.20 14.00M625.50 258.00L625.50 248.00M625.50 4.00L625.50 14.00M740.80 258.00L740.80 248.00M740.80 4.00L740.80 14.00M567.85 258.00L567.85 253.00M567.85 4.00L567.85 9.00M683.15 258.00L683.15 253.00M683.15 4.00L683.15 9.00M510.20 245.30L515.20 245.30M764.00 245.30L759.00 245.30M510.20 232.60L520.20 232.60M764.00 232.60L754.00 232.60M510.20 219.90L515.20 219.90M764.00 219.90L759.00 219.90M510.20 207.20L515.20 207.20M764.00 207.20L759.00 207.20M510.20 194.50L515.20 194.50M764.00 194.50L759.00 194.50M510.20 181.80L520.20 181.80M764.00 181.80L754.00 181.80M510.20 169.10L515.20 169.10M764.00 169.10L759.00 169.10M510.20 156.40L515.20 156.40M764.00 156.40L759.00 156.40M510.20 143.70L515.20 143.70M764.00 143.70L759.00 143.70M510.20 131.00L520.20 131.00M764.00 131.00L754.00 131.00M510.20 118.30L515.20 118.30M764.00 118.30L759.00 118.30M510.20 105.60L515.20 105.60M764.00 105.60L759.00 105.60M510.20 92.90L515.20 92.90M764.00 92.90L759.00 92.90M510.20 80.20L520.20 80.20M764.00 80.20L754.00 80.20M510.20 67.50L515.20 67.50M764.00 67.50L759.00 67.50M510.20 54.80L515.20 54.80M764.00 54.80L759.00 54.80M510.20 42.10L515.20 42.10M764.00 42.10L759.00 42.10M510.20 29.40L520.20 29.40M764.00 29.40L754.00 29.40M510.20 16.70L515.20 16.70M764.00 16.70L759.00 16.70" stroke="#000" stroke-width="1.1" fill="none"/>
<rect x="63.9" y="4.0" width="405.6" height="254.0" fill="none" stroke="#000" stroke-width="1.1"/>
<rect x="510.2" y="4.0" width="253.8" height="254.0" fill="none" stroke="#000" stroke-width="1.1"/>
<rect x="199.5" y="161.5" width="166" height="76.7" fill="#fff" stroke="#000" stroke-width="1"/>
<path d="M204.8 181.6H225.3" stroke="#ff0000" stroke-width="1.7" stroke-dasharray="7.8 4.7" fill="none"/><path d="M204.8 218.5H225.3" stroke="#0000ff" stroke-width="1.7" fill="none"/><text x="236.0" y="186.2" font-size="30" textLength="37.2" lengthAdjust="spacingAndGlyphs" style="letter-spacing:0">ΔA</text><text x="274.3" y="197.5" font-size="20" textLength="44.8" lengthAdjust="spacingAndGlyphs" style="letter-spacing:0">RWZ</text><text x="324.4" y="186.2" font-size="30" style="letter-spacing:0">/</text><text x="340.9" y="186.2" font-size="30" textLength="19.2" lengthAdjust="spacingAndGlyphs" style="letter-spacing:0">A</text><text x="236.0" y="222.8" font-size="30" textLength="37.2" lengthAdjust="spacingAndGlyphs" style="letter-spacing:0">ΔA</text><text x="274.3" y="234.1" font-size="20" textLength="25.4" lengthAdjust="spacingAndGlyphs" style="letter-spacing:0">NP</text><text x="306.0" y="222.8" font-size="30" style="letter-spacing:0">/</text><text x="322.2" y="222.8" font-size="30" textLength="19.2" lengthAdjust="spacingAndGlyphs" style="letter-spacing:0">A</text>
<text x="59" y="75.9" font-size="30" text-anchor="end">0.01</text><text x="59" y="152.9" font-size="30" text-anchor="end">0</text><text x="59" y="229.9" font-size="30" text-anchor="end">-0.01</text><text x="106.0" y="282.7" font-size="30" text-anchor="middle">1000</text><text x="246.0" y="282.7" font-size="30" text-anchor="middle">2000</text><text x="386.0" y="282.7" font-size="30" text-anchor="middle">3000</text><text x="263.2" y="308" font-size="30" style="letter-spacing:-1.4px">t/M</text><text x="510.7" y="282.7" font-size="30" text-anchor="middle">3600</text><text x="626.0" y="282.7" font-size="30" text-anchor="middle">3800</text><text x="741.3" y="282.7" font-size="30" text-anchor="middle">4000</text><text x="608" y="308" font-size="30" style="letter-spacing:-1.4px">t/M</text><text x="769" y="39.8" font-size="30">0.08</text><text x="769" y="90.6" font-size="30">0.04</text><text x="769" y="141.4" font-size="30">0</text><text x="769" y="192.2" font-size="30">-0.04</text><text x="769" y="243.0" font-size="30">-0.08</text>
</svg>
</body></html>
